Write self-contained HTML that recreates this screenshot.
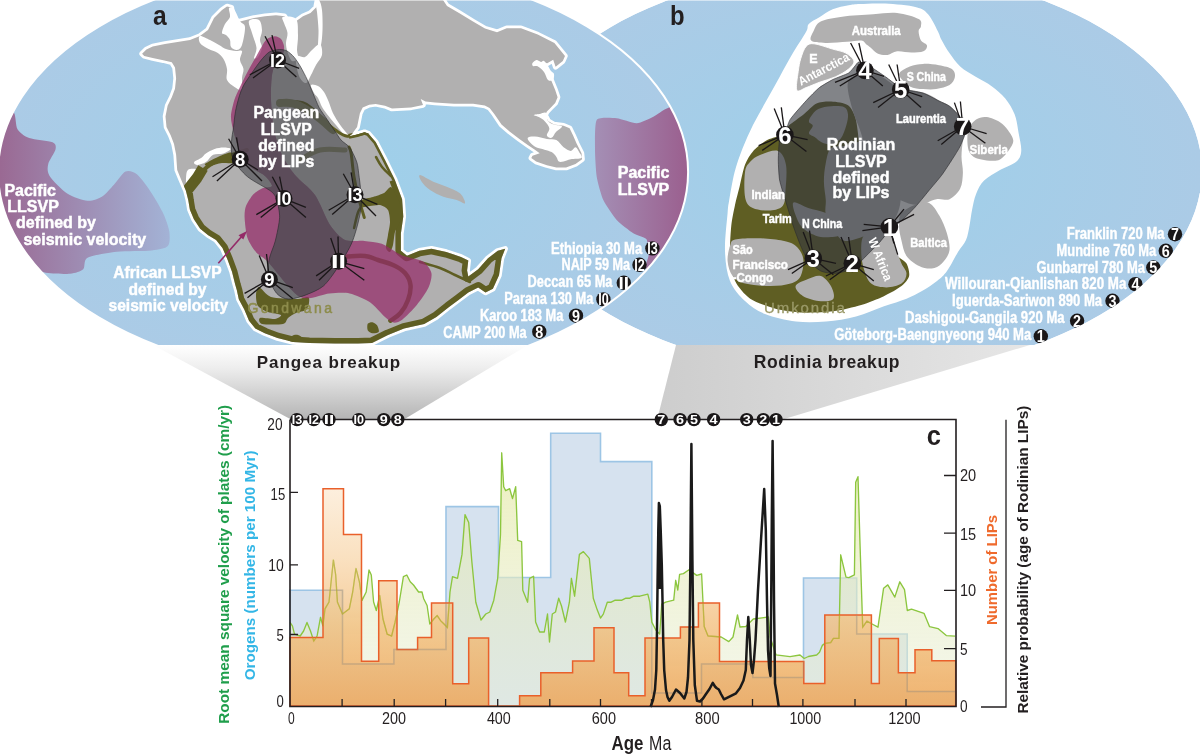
<!DOCTYPE html>
<html><head><meta charset="utf-8"><style>
html,body{margin:0;padding:0;background:#fff;width:1200px;height:754px;overflow:hidden}
svg{display:block;will-change:transform}
text{font-family:"Liberation Sans",sans-serif}
</style></head><body>
<svg width="1200" height="754" viewBox="0 0 1200 754">
<defs>
<radialGradient id="sea" cx="0.5" cy="0.5" r="0.5">
<stop offset="0" stop-color="#9ed0ea"/><stop offset="1" stop-color="#abcbe6"/>
</radialGradient>
<linearGradient id="fa" x1="0" y1="0" x2="0" y2="1">
<stop offset="0" stop-color="#ffffff"/><stop offset="0.3" stop-color="#eeeeee"/><stop offset="1" stop-color="#b3b3b3"/>
</linearGradient>
<linearGradient id="fb" x1="0" y1="0" x2="1" y2="0">
<stop offset="0" stop-color="#cdcdcd"/><stop offset="1" stop-color="#e6e6e6"/>
</linearGradient>
<linearGradient id="og" gradientUnits="userSpaceOnUse" x1="0" y1="440" x2="0" y2="706">
<stop offset="0" stop-color="#fef7ee"/><stop offset="0.45" stop-color="#f8d6aa"/><stop offset="0.7" stop-color="#f2bb76"/><stop offset="1" stop-color="#ef9c46"/>
</linearGradient>
<linearGradient id="gg" gradientUnits="userSpaceOnUse" x1="0" y1="450" x2="0" y2="706">
<stop offset="0" stop-color="#e6eaa8" stop-opacity="0.75"/><stop offset="1" stop-color="#e8eed8" stop-opacity="0.5"/>
</linearGradient>
<linearGradient id="pacA" gradientUnits="userSpaceOnUse" x1="0" y1="0" x2="170" y2="0">
<stop offset="0" stop-color="#9a6993"/><stop offset="1" stop-color="#a3b3d6"/>
</linearGradient>
<linearGradient id="pacB" gradientUnits="userSpaceOnUse" x1="595" y1="0" x2="684" y2="0">
<stop offset="0" stop-color="#a48fb5"/><stop offset="1" stop-color="#9b6190"/>
</linearGradient>
<clipPath id="clipA"><path d="M0,0 H1200 V345 H0 Z" /></clipPath>
<clipPath id="orClip"><path d="M290.0,706 L290.0,637.6 L323.0,637.6 L323.0,488.8 L343.5,488.8 L343.5,534.4 L361.5,534.4 L361.5,661.3 L378.7,661.3 L378.7,580.8 L397.0,580.8 L397.0,649.4 L417.6,649.4 L417.6,637.6 L431.5,637.6 L431.5,603.0 L452.7,603.0 L452.7,683.8 L468.7,683.8 L468.7,638.0 L488.6,638.0 L488.6,706.0 L519.6,706.0 L519.6,695.8 L540.8,695.8 L540.8,672.7 L572.6,672.7 L572.6,661.0 L594.0,661.0 L594.0,627.7 L614.0,627.7 L614.0,672.7 L628.7,672.7 L628.7,695.8 L645.0,695.8 L645.0,638.0 L680.4,638.0 L680.4,626.9 L698.4,626.9 L698.4,603.0 L719.5,603.0 L719.5,661.4 L803.8,661.4 L803.8,683.5 L824.8,683.5 L824.8,615.0 L871.4,615.0 L871.4,683.5 L879.3,683.5 L879.3,638.5 L898.4,638.5 L898.4,672.8 L915.0,672.8 L915.0,649.7 L931.8,649.7 L931.8,660.8 L955.7,660.8 L955.7,706 Z"/></clipPath>
<clipPath id="ellA"><ellipse cx="343.1" cy="172" rx="345" ry="206"/></clipPath>
<clipPath id="ellB"><ellipse cx="855.2" cy="171.1" rx="346.7" ry="203.1"/></clipPath>
<clipPath id="clipPangea"><path d="M142.1,53.8 L146.4,49.5 L152.7,46.4 L165,44 L190,40 L200,36 L208,30 L214,18 L222,10 L227,6.5 L231.4,7.6 L233,20 L239,21.7 L254,18 L265,16.3 L276,15.2 L284.5,16.3 L289,23.8 L292,26 L295.3,21.7 L303,16.3 L310.5,13 L316,7.6 L318,-3 L441,-3 L447,6 L459,13 L473,21.5 L485,28.6 L497,32.2 L506.7,28.2 L521,28.2 L537.7,34.6 L554.4,43 L565,56 L562.8,61 L555.6,66.8 L553.2,59.7 L547.2,63.3 L535.3,60.9 L534,64.5 L543.7,68 L549.6,76.4 L555.2,90 L557.6,97.2 L555.2,103.1 L550.4,107.9 L546.9,111.5 L545.1,115.1 L548.1,121 L554,124.6 L563.6,125.8 L569.6,128.2 L573.1,135.4 L576.7,143.7 L581.5,153.3 L582.1,159.3 L575.5,164 L566,167.6 L556.4,167.6 L546.9,165.2 L536.1,161.6 L531.3,158.1 L532.5,155.7 L539.7,153.3 L534.9,149.7 L527.8,144.9 L519.4,139 L509.9,131.8 L501.5,124.6 L494.3,113.9 L489.6,107.9 L484.8,105.5 L473.2,103.8 L454,103.8 L435,102.6 L425.5,101.5 L420.7,99.1 L423,105 L411,107.4 L392,108.6 L385,105.8 L375.7,103.9 L369.2,104.8 L362.7,107.6 L359.9,113.2 L357.1,127.1 L352,134 L348.8,136.4 L357.1,134.5 L364.5,132.2 L368.3,133.6 L375.7,142 L385,160 L394.7,179.6 L402.1,199.3 L403.3,216.4 L400.9,233.6 L400.9,250.8 L407,255.7 L419.3,250.8 L431.5,248.8 L446.3,252 L461,256.9 L468.3,260.6 L467.1,270.4 L468.3,276.6 L478.2,269.2 L488,258.2 L497.8,250.8 L505.2,248.8 L501.5,258.2 L499,275.3 L492.9,288.8 L485.5,292.5 L478.2,287.6 L468.3,292.5 L458.5,299.9 L448.7,307.2 L436.4,317.1 L424.2,324 L404,328.6 L388,335 L372,343 L358,343.5 L335,343.5 L309.2,343.1 L293.3,342 L277.5,338.1 L264.8,333.3 L255.3,328.6 L249,320.7 L244.3,309.6 L238.8,299.2 L236.8,290 L235.2,284.5 L232,271.8 L227.3,259.1 L222.5,247.9 L216.1,240 L208.2,235.2 L200.2,228.8 L193.9,219.3 L189.9,209.8 L188.3,200.2 L185.9,190.7 L181.1,179.5 L177.2,170 L176.1,154.6 L174,144 L170.8,135.5 L166.5,127 L165.5,116.4 L167.6,105.8 L171.8,97.3 L175,88.8 L176.1,78.2 L175,67.6 L171.8,62.3 L163.3,60.2 L152.7,58 L144.2,55.9 Z"/></clipPath>
</defs>

<!-- funnels -->
<polygon points="153,345 528,345 403,420 292,420" fill="url(#fa)"/>
<polygon points="676,345 1030,345 781,420 657,420" fill="url(#fb)"/>

<g clip-path="url(#clipA)">
<g clip-path="url(#ellB)">
<ellipse cx="855.2" cy="171.1" rx="346.7" ry="203.1" fill="url(#sea)"/>
<path d="M808.8,23.9 C811.0,21.5 815.4,19.6 819.4,17.2 C823.4,14.8 827.8,11.3 832.7,9.3 C837.6,7.3 844.1,6.2 848.6,5.3 C853.1,4.4 853.9,4.3 860.0,4.0 C866.1,3.7 875.8,3.1 885.2,3.6 C894.6,4.1 909.1,5.4 916.2,7.2 C923.4,9.0 924.5,10.3 928.1,14.3 C931.7,18.3 935.5,26.7 937.7,31.0 C940.0,35.3 939.6,36.3 941.6,40.0 C943.6,43.7 946.5,48.9 949.6,53.3 C952.7,57.7 955.8,62.5 960.2,66.5 C964.6,70.5 970.8,73.8 976.1,77.1 C981.4,80.4 987.1,82.9 992.0,86.4 C996.9,90.0 1001.5,93.8 1005.3,98.4 C1009.1,103.1 1012.4,108.5 1014.6,114.3 C1016.8,120.0 1017.5,126.7 1018.6,132.9 C1019.7,139.1 1021.7,146.6 1021.2,151.4 C1020.8,156.2 1019.4,158.9 1015.9,162.0 C1012.4,165.1 1005.3,166.9 1000.0,170.0 C994.7,173.1 988.1,176.6 984.1,180.6 C980.1,184.6 978.1,189.0 976.1,193.9 C974.1,198.8 973.2,204.5 972.1,209.8 C971.0,215.1 970.5,220.7 969.5,225.7 C968.5,230.7 967.9,235.6 966.0,240.0 C964.1,244.4 961.2,246.8 958.0,252.0 C954.8,257.2 950.5,266.2 947.0,271.0 C943.5,275.8 941.2,277.7 937.0,281.0 C932.8,284.3 927.1,288.1 922.0,291.0 C916.9,293.9 912.8,296.1 906.5,298.7 C900.2,301.2 892.4,303.4 884.0,306.3 C875.6,309.2 865.7,313.9 856.0,316.4 C846.3,318.9 836.0,320.6 826.0,321.4 C816.0,322.2 806.2,322.6 796.0,321.4 C785.8,320.2 773.5,317.4 765.0,314.0 C756.5,310.6 750.8,306.5 745.0,301.0 C739.2,295.5 733.3,289.3 730.0,281.0 C726.7,272.7 725.4,262.3 725.0,251.0 C724.6,239.7 726.9,221.5 727.6,213.0 C728.3,204.5 728.1,206.8 729.2,200.0 C730.4,193.2 732.3,181.1 734.5,172.5 C736.7,163.9 739.4,156.6 742.5,148.6 C745.6,140.6 749.1,132.7 753.1,124.7 C757.1,116.7 761.9,108.8 766.3,100.8 C770.7,92.8 775.2,84.9 779.6,76.9 C784.0,69.0 788.5,60.6 792.9,53.1 C797.3,45.6 803.5,36.7 806.1,31.8 C808.8,26.9 806.6,26.3 808.8,23.9 Z" fill="#fff"/>
<path d="M779.6,135.3 C776.6,137.3 769.8,138.5 766.3,140.6 C762.8,142.7 755.9,148.0 753.1,151.2 C750.3,154.4 746.9,159.9 745.1,164.5 C743.3,169.1 741.1,180.3 739.8,185.7 C738.5,191.1 736.1,199.7 735.0,205.0 C733.9,210.3 732.0,218.8 731.3,225.6 C730.6,232.4 729.6,248.5 730.1,255.9 C730.6,263.3 732.4,275.4 735.1,281.1 C737.8,286.8 744.8,295.0 750.2,298.7 C755.6,302.4 768.4,306.9 775.5,308.8 C782.6,310.7 795.5,312.3 803.2,312.6 C810.9,312.9 825.7,312.3 833.4,311.3 C841.1,310.3 854.5,307.0 861.2,305.0 C867.9,303.0 878.5,298.7 883.9,296.2 C889.3,293.7 898.1,288.8 901.5,286.1 C904.9,283.4 908.4,279.0 909.1,276.0 C909.8,273.0 908.2,266.1 906.5,263.4 C904.8,260.7 899.5,257.6 896.5,255.9 C893.5,254.2 887.4,253.6 883.9,250.8 C880.4,248.0 872.9,240.4 870.0,235.0 C867.1,229.6 863.3,217.3 862.0,210.0 C860.7,202.7 860.4,188.8 860.0,180.0 C859.6,171.2 859.6,152.2 859.0,144.0 C858.4,135.8 857.0,123.5 855.5,118.3 C854.0,113.1 851.2,107.5 848.0,105.3 C844.8,103.1 835.5,101.8 831.3,101.6 C827.1,101.4 820.2,101.8 816.5,103.5 C812.8,105.2 807.2,111.6 803.5,114.6 C799.8,117.6 791.8,123.0 788.6,125.8 C785.4,128.6 782.6,133.3 779.6,135.3 Z" fill="#5f5e23"/>
<path d="M820.7,21.5 C825.5,19.1 833.5,17.9 842.2,16.7 C851.0,15.5 864.1,14.9 873.2,14.3 C882.4,13.7 889.5,12.3 897.1,13.1 C904.7,13.9 914.6,16.9 918.6,19.1 C922.6,21.3 921.0,24.3 921.0,26.3 C921.0,28.3 918.6,28.6 918.6,31.0 C918.6,33.4 919.6,38.2 921.0,40.6 C922.4,43.0 926.6,43.6 927.0,45.4 C927.4,47.2 926.0,50.1 923.4,51.3 C920.8,52.5 915.8,52.5 911.4,52.5 C907.0,52.5 901.1,50.9 897.1,51.3 C893.1,51.7 890.8,54.5 887.6,54.9 C884.4,55.3 880.8,54.9 878.0,53.7 C875.2,52.5 872.8,49.3 870.8,47.7 C868.8,46.1 867.7,45.4 866.1,44.2 C864.5,43.0 864.5,41.0 861.3,40.6 C858.1,40.2 853.0,41.4 847.0,41.8 C841.0,42.2 831.5,43.2 825.5,43.0 C819.5,42.8 813.2,42.6 811.2,40.6 C809.2,38.6 812.0,34.2 813.6,31.0 C815.2,27.8 815.9,23.9 820.7,21.5 Z" fill="#b1b0b0"/>
<path d="M796.8,90.2 C795.5,87.5 797.5,76.9 798.2,71.6 C798.9,66.3 799.5,62.6 800.8,58.4 C802.1,54.2 803.9,48.8 806.1,46.4 C808.3,44.0 809.7,43.3 814.1,43.8 C818.5,44.2 827.4,47.5 832.7,49.1 C838.0,50.7 842.4,51.1 845.9,53.1 C849.4,55.1 853.4,58.4 853.9,61.0 C854.4,63.6 851.7,66.3 848.6,69.0 C845.5,71.7 840.2,74.7 835.3,76.9 C830.4,79.1 824.3,80.5 819.4,82.3 C814.5,84.1 809.9,86.3 806.1,87.6 C802.3,88.9 798.1,92.9 796.8,90.2 Z" fill="#b1b0b0"/>
<path d="M899.2,74.5 C899.2,71.2 905.8,68.3 909.8,66.5 C913.8,64.7 918.2,64.1 923.1,63.9 C928.0,63.7 934.1,64.3 939.0,65.2 C943.9,66.1 949.6,67.2 952.2,69.2 C954.9,71.2 955.3,74.4 954.9,77.1 C954.5,79.8 952.7,83.1 949.6,85.1 C946.5,87.1 940.7,88.4 936.3,89.1 C931.9,89.8 927.5,89.5 923.1,89.1 C918.7,88.6 913.8,88.8 909.8,86.4 C905.8,84.0 899.2,77.8 899.2,74.5 Z" fill="#b1b0b0"/>
<path d="M968.2,130.2 C969.5,125.3 973.0,121.8 976.1,119.6 C979.2,117.4 982.7,116.6 986.7,117.0 C990.7,117.4 996.5,120.0 1000.0,122.2 C1003.5,124.4 1005.8,127.1 1008.0,130.2 C1010.2,133.3 1013.3,137.3 1013.3,140.8 C1013.3,144.3 1010.2,148.3 1008.0,151.4 C1005.8,154.5 1002.7,157.9 1000.0,159.4 C997.3,160.9 995.1,160.7 992.0,160.7 C988.9,160.7 984.5,160.1 981.4,159.4 C978.3,158.7 975.7,158.5 973.5,156.7 C971.3,154.9 969.1,153.2 968.2,148.8 C967.3,144.4 966.9,135.1 968.2,130.2 Z" fill="#b1b0b0"/>
<path d="M848,82 C849.7,76.3 856.7,75.0 862.0,74.0 C867.3,73.0 874.0,73.8 880.0,76.0 C886.0,78.2 890.5,84.2 898.0,87.0 C905.5,89.8 918.0,90.7 925.0,93.0 C932.0,95.3 935.8,98.8 940.0,101.0 C944.2,103.2 946.7,103.3 950.0,106.0 C953.3,108.7 957.5,112.8 960.0,117.0 C962.5,121.2 964.5,127.0 965.0,131.0 C965.5,135.0 963.5,136.5 962.9,140.8 C962.3,145.1 961.5,151.4 961.5,156.7 C961.5,162.0 963.1,167.3 962.9,172.6 C962.7,177.9 962.4,184.2 960.2,188.6 C958.0,193.0 953.6,197.4 949.6,199.2 C945.6,201.0 941.6,198.2 936.3,199.2 C931.0,200.2 923.8,204.9 917.8,205.0 C911.8,205.1 905.5,202.5 900.0,200.0 C894.5,197.5 889.7,194.2 885.0,190.0 C880.3,185.8 875.2,181.7 872.0,175.0 C868.8,168.3 868.0,157.5 866.0,150.0 C864.0,142.5 862.3,137.0 860.0,130.0 C857.7,123.0 854.0,116.0 852.0,108.0 C850.0,100.0 846.3,87.7 848.0,82.0 Z" fill="#b1b0b0"/>
<path d="M831,148 C834.2,145.2 840.2,147.0 845.0,146.0 C849.8,145.0 854.2,141.3 860.0,142.0 C865.8,142.7 873.7,144.5 880.0,150.0 C886.3,155.5 894.7,165.8 898.0,175.0 C901.3,184.2 901.7,196.2 900.0,205.0 C898.3,213.8 893.8,222.8 888.0,228.0 C882.2,233.2 872.2,233.8 865.0,236.0 C857.8,238.2 850.0,241.7 845.0,241.0 C840.0,240.3 838.2,236.3 835.0,232.0 C831.8,227.7 827.5,220.3 826.0,215.0 C824.5,209.7 826.1,205.6 825.8,200.0 C825.4,194.4 823.9,187.7 823.9,181.5 C823.9,175.3 824.6,168.6 825.8,163.0 C827.0,157.4 827.8,150.8 831.0,148.0 Z" fill="#b1b0b0"/>
<path d="M745,172 C745.8,166.0 747.5,164.8 750.0,162.0 C752.5,159.2 755.3,156.8 760.0,155.0 C764.7,153.2 773.7,149.3 778.0,151.0 C782.3,152.7 784.8,158.4 786.0,165.0 C787.2,171.6 786.0,183.6 785.5,190.3 C785.0,197.1 785.5,202.1 783.0,205.5 C780.5,208.9 775.4,210.1 770.4,210.5 C765.4,210.9 757.0,210.1 752.8,208.0 C748.6,205.9 746.5,203.9 745.2,197.9 C743.9,191.9 744.2,178.0 745.0,172.0 Z" fill="#b1b0b0"/>
<path d="M730.1,245.8 C731.4,242.2 730.5,240.8 735.1,239.5 C739.7,238.2 749.8,238.0 757.8,238.2 C765.8,238.4 776.7,239.5 783.0,240.8 C789.3,242.1 792.2,242.9 795.6,245.8 C799.0,248.7 802.4,253.4 803.2,258.4 C804.1,263.4 802.8,271.8 800.7,276.0 C798.6,280.2 795.7,281.9 790.6,283.6 C785.5,285.3 778.0,286.1 770.4,286.1 C762.8,286.1 751.5,285.3 745.2,283.6 C738.9,281.9 735.5,279.8 732.6,276.0 C729.7,272.2 728.0,265.9 727.6,260.9 C727.2,255.9 728.9,249.4 730.1,245.8 Z" fill="#b1b0b0"/>
<path d="M795.6,286.1 C796.4,283.2 803.8,280.7 808.0,279.0 C812.2,277.3 817.0,274.8 820.8,276.0 C824.6,277.2 828.8,282.3 830.9,286.1 C833.0,289.9 835.1,296.2 833.4,298.7 C831.7,301.2 825.8,301.6 820.8,301.2 C815.8,300.8 807.4,298.7 803.2,296.2 C799.0,293.7 794.8,289.0 795.6,286.1 Z" fill="#b1b0b0"/>
<path d="M863.7,235.7 C866.2,232.3 871.7,230.7 876.3,230.7 C880.9,230.7 888.0,232.3 891.4,235.7 C894.8,239.0 894.8,246.2 896.5,250.8 C898.2,255.4 899.8,259.6 901.5,263.4 C903.2,267.2 906.5,270.1 906.5,273.5 C906.5,276.9 904.9,281.3 901.5,283.6 C898.1,285.9 891.4,287.4 886.4,287.4 C881.4,287.4 875.0,286.8 871.2,283.6 C867.4,280.5 865.4,274.0 863.7,268.5 C862.0,263.0 861.2,256.3 861.2,250.8 C861.2,245.3 861.2,239.0 863.7,235.7 Z" fill="#b1b0b0"/>
<path d="M901.5,213 C904.4,209.4 912.0,205.9 916.6,204.2 C921.2,202.5 925.4,201.0 929.2,202.9 C933.0,204.8 936.3,210.4 939.3,215.5 C942.2,220.6 945.2,227.3 946.9,233.2 C948.6,239.1 950.2,245.8 949.4,250.8 C948.5,255.8 944.8,260.4 941.8,263.4 C938.8,266.3 935.5,268.1 931.7,268.5 C927.9,268.9 923.3,268.1 919.1,266.0 C914.9,263.9 909.4,260.1 906.5,255.9 C903.6,251.7 902.8,245.9 901.5,240.8 C900.2,235.8 899.0,230.2 899.0,225.6 C899.0,221.0 898.6,216.6 901.5,213.0 Z" fill="#b1b0b0"/>
<path d="M793,203 C794.2,200.1 802.7,206.3 808.2,208.0 C813.7,209.7 820.4,210.9 825.9,213.0 C831.4,215.1 838.1,217.2 841.0,220.6 C843.9,224.0 845.2,230.5 843.5,233.2 C841.8,235.9 835.6,236.6 831.0,237.0 C826.4,237.4 820.8,237.6 815.8,235.7 C810.8,233.8 804.5,231.0 800.7,225.6 C796.9,220.2 791.8,205.9 793.0,203.0 Z" fill="#b1b0b0"/>
<path d="M810.9,116.5 C812.4,114.3 814.9,110.7 818.3,109.0 C821.7,107.3 827.0,106.5 831.3,106.2 C835.6,105.9 841.5,105.8 844.3,107.2 C847.1,108.6 847.7,111.5 848.0,114.6 C848.3,117.7 847.4,121.8 846.2,125.8 C845.0,129.8 843.1,135.7 840.6,138.8 C838.1,141.9 834.4,143.7 831.3,144.3 C828.2,144.9 824.8,143.7 822.0,142.5 C819.2,141.3 816.8,138.6 814.6,137.0 C812.4,135.4 809.3,135.1 809.0,133.2 C808.7,131.3 812.8,127.7 812.8,125.8 C812.8,123.9 809.3,123.5 809.0,122.0 C808.7,120.5 809.4,118.7 810.9,116.5 Z" fill="#b1b0b0"/>
<path d="M796.8,90.2 C795.5,87.5 797.5,76.9 798.2,71.6 C798.9,66.3 799.5,62.6 800.8,58.4 C802.1,54.2 803.9,48.8 806.1,46.4 C808.3,44.0 809.7,43.3 814.1,43.8 C818.5,44.2 827.4,47.5 832.7,49.1 C838.0,50.7 842.4,51.1 845.9,53.1 C849.4,55.1 853.4,58.4 853.9,61.0 C854.4,63.6 851.7,66.3 848.6,69.0 C845.5,71.7 840.2,74.7 835.3,76.9 C830.4,79.1 824.3,80.5 819.4,82.3 C814.5,84.1 809.9,86.3 806.1,87.6 C802.3,88.9 798.1,92.9 796.8,90.2 Z" fill="none" stroke="#fff" stroke-width="0.9"/>
<path d="M859,62 C860.5,62.0 867.3,65.0 870.0,66.5 C872.7,68.0 883.2,75.2 885.9,77.1 C888.5,79.0 894.9,83.9 896.5,85.1 C898.1,86.3 899.1,88.3 901.8,89.1 C904.5,89.9 919.4,91.9 923.1,93.1 C926.8,94.3 936.4,99.7 939.0,101.0 C941.6,102.3 947.5,104.7 949.6,106.3 C951.7,107.9 958.6,114.5 960.2,117.0 C961.8,119.5 965.5,128.6 965.5,131.5 C965.5,134.4 961.5,143.3 960.2,146.1 C958.9,148.9 954.1,156.5 952.2,159.4 C950.3,162.3 944.0,172.1 941.6,175.3 C939.2,178.5 931.0,188.0 928.4,191.2 C925.8,194.4 917.8,204.3 915.1,207.2 C912.4,210.1 904.2,218.3 901.8,220.4 C899.4,222.5 892.5,227.4 891.2,228.4 C889.9,229.4 890.1,229.2 888.9,230.7 C887.7,232.2 881.1,240.8 878.8,243.3 C876.5,245.8 868.5,253.6 866.2,255.9 C863.9,258.2 858.1,264.5 856.1,266.0 C854.1,267.5 848.3,270.2 846.0,271.0 C843.7,271.8 835.9,273.5 833.4,273.5 C830.9,273.5 823.3,272.3 820.8,271.0 C818.3,269.7 810.2,263.4 808.2,260.9 C806.2,258.4 802.2,249.3 800.7,245.8 C799.2,242.3 794.6,230.1 793.1,225.6 C791.6,221.1 786.9,205.0 785.5,200.4 C784.1,195.8 780.3,184.0 779.6,180.0 C778.9,176.0 778.3,164.0 778.3,160.0 C778.3,156.0 778.9,142.6 779.6,140.0 C780.3,137.4 783.8,136.1 784.9,134.0 C786.0,131.9 788.1,122.7 790.2,119.4 C792.3,116.1 803.2,104.0 806.1,100.8 C809.0,97.6 816.7,89.7 819.4,87.6 C822.1,85.5 829.8,81.1 832.7,79.6 C835.6,78.1 846.4,74.4 848.6,73.0 C850.8,71.6 854.0,67.1 855.0,66.0 C856.0,64.9 857.5,62.0 859.0,62.0 Z" fill="#35383f" fill-opacity="0.62" stroke="#2a2a2e" stroke-width="0.6"/>
<g stroke="#1a1718" stroke-width="1.3"><line x1="889.4" y1="226.9" x2="904" y2="209.2"/><line x1="889.4" y1="226.9" x2="914.1" y2="214.3"/><line x1="889.4" y1="226.9" x2="863.7" y2="224.4"/><line x1="889.4" y1="226.9" x2="862.4" y2="230.7"/><line x1="889.4" y1="226.9" x2="893.9" y2="243.3"/><line x1="889.4" y1="226.9" x2="897.7" y2="254.6"/></g><circle cx="889.4" cy="226.9" r="8.8" fill="#1a1718"/><text x="889.4" y="235.54" text-anchor="middle" font-size="24" font-weight="bold" fill="#fff">1</text>
<g stroke="#1a1718" stroke-width="1.3"><line x1="852.3" y1="263.4" x2="841" y2="237"/><line x1="852.3" y1="263.4" x2="848.6" y2="237"/><line x1="852.3" y1="263.4" x2="825.9" y2="276"/><line x1="852.3" y1="263.4" x2="829.7" y2="279.8"/><line x1="852.3" y1="263.4" x2="873.8" y2="269.7"/><line x1="852.3" y1="263.4" x2="873.8" y2="281.1"/></g><circle cx="852.3" cy="263.4" r="8.8" fill="#1a1718"/><text x="852.3" y="272.04" text-anchor="middle" font-size="24" font-weight="bold" fill="#fff">2</text>
<g stroke="#1a1718" stroke-width="1.3"><line x1="813.3" y1="258.4" x2="803.2" y2="231.9"/><line x1="813.3" y1="258.4" x2="809.5" y2="230.7"/><line x1="813.3" y1="258.4" x2="788" y2="269.7"/><line x1="813.3" y1="258.4" x2="791.8" y2="273.5"/><line x1="813.3" y1="258.4" x2="836" y2="263.4"/><line x1="813.3" y1="258.4" x2="833.4" y2="274.8"/></g><circle cx="813.3" cy="258.4" r="8.8" fill="#1a1718"/><text x="813.3" y="267.04" text-anchor="middle" font-size="24" font-weight="bold" fill="#fff">3</text>
<g stroke="#1a1718" stroke-width="1.3"><line x1="864.9" y1="70.4" x2="850.6" y2="43"/><line x1="864.9" y1="70.4" x2="858.9" y2="43"/><line x1="864.9" y1="70.4" x2="835" y2="82.4"/><line x1="864.9" y1="70.4" x2="839.8" y2="86"/><line x1="864.9" y1="70.4" x2="884" y2="76.4"/><line x1="864.9" y1="70.4" x2="882.8" y2="86"/></g><circle cx="864.9" cy="70.4" r="8.8" fill="#1a1718"/><text x="864.9" y="79.04" text-anchor="middle" font-size="24" font-weight="bold" fill="#fff">4</text>
<g stroke="#1a1718" stroke-width="1.3"><line x1="900.7" y1="89.5" x2="888.7" y2="64.5"/><line x1="900.7" y1="89.5" x2="897.1" y2="64.5"/><line x1="900.7" y1="89.5" x2="873.2" y2="102.6"/><line x1="900.7" y1="89.5" x2="878" y2="107.4"/><line x1="900.7" y1="89.5" x2="922.2" y2="96.7"/><line x1="900.7" y1="89.5" x2="921" y2="107.4"/></g><circle cx="900.7" cy="89.5" r="8.8" fill="#1a1718"/><text x="900.7" y="98.14" text-anchor="middle" font-size="24" font-weight="bold" fill="#fff">5</text>
<g stroke="#1a1718" stroke-width="1.3"><line x1="784.9" y1="134.9" x2="774.2" y2="108.6"/><line x1="784.9" y1="134.9" x2="781.3" y2="107.4"/><line x1="784.9" y1="134.9" x2="758.6" y2="145.6"/><line x1="784.9" y1="134.9" x2="762.2" y2="150.4"/><line x1="784.9" y1="134.9" x2="807.6" y2="139.7"/><line x1="784.9" y1="134.9" x2="806.4" y2="151.6"/></g><circle cx="784.9" cy="134.9" r="8.8" fill="#1a1718"/><text x="784.9" y="143.54" text-anchor="middle" font-size="24" font-weight="bold" fill="#fff">6</text>
<g stroke="#1a1718" stroke-width="1.3"><line x1="962.7" y1="126.5" x2="954.4" y2="102.6"/><line x1="962.7" y1="126.5" x2="960.4" y2="101.5"/><line x1="962.7" y1="126.5" x2="937.7" y2="140.8"/><line x1="962.7" y1="126.5" x2="941.3" y2="144.4"/><line x1="962.7" y1="126.5" x2="986.6" y2="133.7"/><line x1="962.7" y1="126.5" x2="985.4" y2="143.2"/></g><circle cx="962.7" cy="126.5" r="8.8" fill="#1a1718"/><text x="962.7" y="135.14" text-anchor="middle" font-size="24" font-weight="bold" fill="#fff">7</text>
<text x="861" y="150" text-anchor="middle" font-size="16" font-weight="bold" fill="#fff" stroke="#fff" stroke-width="0.45">Rodinian</text>
<text x="861" y="166.5" text-anchor="middle" font-size="16" font-weight="bold" fill="#fff" stroke="#fff" stroke-width="0.45">LLSVP</text>
<text x="861" y="183" text-anchor="middle" font-size="16" font-weight="bold" fill="#fff" stroke="#fff" stroke-width="0.45">defined</text>
<text x="861" y="197.5" text-anchor="middle" font-size="16" font-weight="bold" fill="#fff" stroke="#fff" stroke-width="0.45">by LIPs</text>
<text x="876.2" y="34.6" text-anchor="middle" font-size="12.5" font-weight="bold" fill="#fff" textLength="49" lengthAdjust="spacingAndGlyphs" stroke="#fff" stroke-width="0.45">Australia</text>
<text x="813.5" y="63.3" text-anchor="middle" font-size="12.5" font-weight="bold" fill="#fff" stroke="#fff" stroke-width="0.45">E</text>
<text transform="translate(801,86) rotate(-28)" font-size="12.5" font-weight="bold" fill="#fff" textLength="56" lengthAdjust="spacingAndGlyphs">Antarctica</text>
<text x="926.3" y="81.2" text-anchor="middle" font-size="12.5" font-weight="bold" fill="#fff" textLength="39.3" lengthAdjust="spacingAndGlyphs" stroke="#fff" stroke-width="0.45">S China</text>
<text x="921" y="123" text-anchor="middle" font-size="12.5" font-weight="bold" fill="#fff" textLength="50" lengthAdjust="spacingAndGlyphs" stroke="#fff" stroke-width="0.45">Laurentia</text>
<text x="988.7" y="154" text-anchor="middle" font-size="12.5" font-weight="bold" fill="#fff" textLength="38.5" lengthAdjust="spacingAndGlyphs" stroke="#fff" stroke-width="0.45">Siberia</text>
<text x="768.2" y="199.2" text-anchor="middle" font-size="12.5" font-weight="bold" fill="#fff" textLength="33.5" lengthAdjust="spacingAndGlyphs" stroke="#fff" stroke-width="0.45">Indian</text>
<text x="777.3" y="223.1" text-anchor="middle" font-size="12.5" font-weight="bold" fill="#fff" textLength="29" lengthAdjust="spacingAndGlyphs" stroke="#fff" stroke-width="0.45">Tarim</text>
<text x="822.1" y="228.1" text-anchor="middle" font-size="12.5" font-weight="bold" fill="#fff" textLength="40.3" lengthAdjust="spacingAndGlyphs" stroke="#fff" stroke-width="0.45">N China</text>
<text x="928.6" y="247.1" text-anchor="middle" font-size="12.5" font-weight="bold" fill="#fff" textLength="36.6" lengthAdjust="spacingAndGlyphs" stroke="#fff" stroke-width="0.45">Baltica</text>
<text x="732.6" y="253.9" text-anchor="start" font-size="12.5" font-weight="bold" fill="#fff" textLength="20.2" lengthAdjust="spacingAndGlyphs" stroke="#fff" stroke-width="0.45">São</text>
<text x="732.6" y="268.5" text-anchor="start" font-size="12.5" font-weight="bold" fill="#fff" textLength="55.4" lengthAdjust="spacingAndGlyphs" stroke="#fff" stroke-width="0.45">Francisco</text>
<text x="732.6" y="282.3" text-anchor="start" font-size="12.5" font-weight="bold" fill="#fff" textLength="40.4" lengthAdjust="spacingAndGlyphs" stroke="#fff" stroke-width="0.45">-Congo</text>
<text transform="translate(868,240) rotate(68)" font-size="12.5" font-weight="bold" fill="#fff" textLength="45" lengthAdjust="spacingAndGlyphs">W Africa</text>
<text x="764" y="312.6" font-size="15" fill="#9a9968" stroke="#9a9968" stroke-width="0.3" textLength="80.8" lengthAdjust="spacing">Umkondia</text>
<text x="1066.7" y="239.2" text-anchor="start" font-size="16" font-weight="bold" fill="#fff" textLength="97.8" lengthAdjust="spacingAndGlyphs" stroke="#fff" stroke-width="0.4">Franklin 720 Ma</text>
<circle cx="1175" cy="234.2" r="7.2" fill="#1a1718"/><text x="1175" y="240.14" text-anchor="middle" font-size="16.5" font-weight="bold" fill="#fff" textLength="8" lengthAdjust="spacingAndGlyphs">7</text>
<text x="1056.5" y="255.9" text-anchor="start" font-size="16" font-weight="bold" fill="#fff" textLength="99.7" lengthAdjust="spacingAndGlyphs" stroke="#fff" stroke-width="0.4">Mundine 760 Ma</text>
<circle cx="1165.8" cy="250.8" r="7.2" fill="#1a1718"/><text x="1165.8" y="256.74" text-anchor="middle" font-size="16.5" font-weight="bold" fill="#fff" textLength="8" lengthAdjust="spacingAndGlyphs">6</text>
<text x="1036.5" y="272.6" text-anchor="start" font-size="16" font-weight="bold" fill="#fff" textLength="108.5" lengthAdjust="spacingAndGlyphs" stroke="#fff" stroke-width="0.4">Gunbarrel 780 Ma</text>
<circle cx="1153.3" cy="267.5" r="7.2" fill="#1a1718"/><text x="1153.3" y="273.44" text-anchor="middle" font-size="16.5" font-weight="bold" fill="#fff" textLength="8" lengthAdjust="spacingAndGlyphs">5</text>
<text x="945" y="289.3" text-anchor="start" font-size="16" font-weight="bold" fill="#fff" textLength="181.3" lengthAdjust="spacingAndGlyphs" stroke="#fff" stroke-width="0.4">Willouran-Qianlishan 820 Ma</text>
<circle cx="1135.4" cy="284.2" r="7.2" fill="#1a1718"/><text x="1135.4" y="290.14" text-anchor="middle" font-size="16.5" font-weight="bold" fill="#fff" textLength="8" lengthAdjust="spacingAndGlyphs">4</text>
<text x="952.1" y="306" text-anchor="start" font-size="16" font-weight="bold" fill="#fff" textLength="150" lengthAdjust="spacingAndGlyphs" stroke="#fff" stroke-width="0.4">Iguerda-Sariwon 890 Ma</text>
<circle cx="1112.5" cy="300.8" r="7.2" fill="#1a1718"/><text x="1112.5" y="306.74" text-anchor="middle" font-size="16.5" font-weight="bold" fill="#fff" textLength="8" lengthAdjust="spacingAndGlyphs">3</text>
<text x="905" y="322.7" text-anchor="start" font-size="16" font-weight="bold" fill="#fff" textLength="159.6" lengthAdjust="spacingAndGlyphs" stroke="#fff" stroke-width="0.4">Dashigou-Gangila 920 Ma</text>
<circle cx="1077.1" cy="320.8" r="7.2" fill="#1a1718"/><text x="1077.1" y="326.74" text-anchor="middle" font-size="16.5" font-weight="bold" fill="#fff" textLength="8" lengthAdjust="spacingAndGlyphs">2</text>
<text x="834.2" y="339.6" text-anchor="start" font-size="16" font-weight="bold" fill="#fff" textLength="197.1" lengthAdjust="spacingAndGlyphs" stroke="#fff" stroke-width="0.4">Göteborg-Baengnyeong 940 Ma</text>
<circle cx="1040.8" cy="336.3" r="7.2" fill="#1a1718"/><text x="1040.8" y="342.24" text-anchor="middle" font-size="16.5" font-weight="bold" fill="#fff" textLength="8" lengthAdjust="spacingAndGlyphs">1</text>
<text x="670" y="24.6" font-size="28.4" font-weight="bold" fill="#231f20" textLength="14.6" lengthAdjust="spacingAndGlyphs">b</text>
</g>
<g clip-path="url(#ellA)">
<ellipse cx="343.1" cy="172" rx="345" ry="206" fill="url(#sea)"/>
<path d="M13.1,111.7 C16.1,112.9 15.4,125.7 17.5,129.2 C19.6,132.7 24.5,136.3 29.2,138.0 C33.9,139.7 49.1,140.8 52.6,142.3 C56.1,143.8 56.1,146.7 55.5,149.6 C54.9,152.5 49.0,160.7 48.2,164.2 C47.4,167.7 47.1,172.0 49.6,175.9 C52.1,179.8 62.1,190.1 67.2,193.4 C72.3,196.7 82.9,200.3 87.6,200.7 C92.3,201.1 98.7,198.5 102.2,196.4 C105.7,194.3 110.8,188.0 113.9,184.7 C117.0,181.4 122.4,172.9 125.5,171.5 C128.6,170.1 133.7,171.6 137.2,174.5 C140.7,177.4 148.3,188.1 151.8,193.4 C155.3,198.7 161.2,208.8 163.5,213.9 C165.8,219.0 168.7,227.1 169.3,231.4 C169.9,235.7 170.2,243.5 167.9,246.0 C165.6,248.5 158.6,249.6 151.8,250.4 C145.0,251.2 125.4,250.8 116.8,251.8 C108.2,252.8 92.1,255.4 87.6,257.7 C83.1,260.0 85.5,267.2 83.2,269.3 C80.9,271.4 75.3,273.3 70.0,273.7 C64.7,274.1 50.5,273.9 43.8,272.3 C37.1,270.7 26.5,267.6 20.0,262.0 C13.5,256.4 -1.7,248.9 -5.0,230.0 C-8.3,211.1 -7.4,135.8 -5.0,120.0 C-2.6,104.2 10.1,110.5 13.1,111.7 Z" fill="url(#pacA)"/>
<path d="M596.7,120 C598.9,116.8 612.7,118.0 616.7,118.3 C620.7,118.6 633.0,123.5 636.7,123.3 C640.4,123.1 650.2,118.2 653.3,116.7 C656.4,115.2 663.3,109.7 668.0,108.0 C672.7,106.3 696.8,82.8 700.0,100.0 C703.2,117.2 705.2,263.0 700.0,280.0 C694.8,297.0 653.1,272.5 648.0,270.0 C642.9,267.5 648.8,258.1 648.6,255.0 C648.5,251.9 648.0,241.5 646.5,239.3 C645.0,237.1 636.3,235.2 633.3,233.3 C630.3,231.4 619.7,223.3 616.7,220.0 C613.7,216.7 605.3,204.3 603.3,200.0 C601.3,195.7 597.5,181.7 596.7,176.7 C595.9,171.7 595.0,155.7 595.0,150.0 C595.0,144.3 594.5,123.2 596.7,120.0 Z" fill="url(#pacB)"/>
<path d="M142.1,53.8 L146.4,49.5 L152.7,46.4 L165,44 L190,40 L200,36 L208,30 L214,18 L222,10 L227,6.5 L231.4,7.6 L233,20 L239,21.7 L254,18 L265,16.3 L276,15.2 L284.5,16.3 L289,23.8 L292,26 L295.3,21.7 L303,16.3 L310.5,13 L316,7.6 L318,-3 L441,-3 L447,6 L459,13 L473,21.5 L485,28.6 L497,32.2 L506.7,28.2 L521,28.2 L537.7,34.6 L554.4,43 L565,56 L562.8,61 L555.6,66.8 L553.2,59.7 L547.2,63.3 L535.3,60.9 L534,64.5 L543.7,68 L549.6,76.4 L555.2,90 L557.6,97.2 L555.2,103.1 L550.4,107.9 L546.9,111.5 L545.1,115.1 L548.1,121 L554,124.6 L563.6,125.8 L569.6,128.2 L573.1,135.4 L576.7,143.7 L581.5,153.3 L582.1,159.3 L575.5,164 L566,167.6 L556.4,167.6 L546.9,165.2 L536.1,161.6 L531.3,158.1 L532.5,155.7 L539.7,153.3 L534.9,149.7 L527.8,144.9 L519.4,139 L509.9,131.8 L501.5,124.6 L494.3,113.9 L489.6,107.9 L484.8,105.5 L473.2,103.8 L454,103.8 L435,102.6 L425.5,101.5 L420.7,99.1 L423,105 L411,107.4 L392,108.6 L385,105.8 L375.7,103.9 L369.2,104.8 L362.7,107.6 L359.9,113.2 L357.1,127.1 L352,134 L348.8,136.4 L357.1,134.5 L364.5,132.2 L368.3,133.6 L375.7,142 L385,160 L394.7,179.6 L402.1,199.3 L403.3,216.4 L400.9,233.6 L400.9,250.8 L407,255.7 L419.3,250.8 L431.5,248.8 L446.3,252 L461,256.9 L468.3,260.6 L467.1,270.4 L468.3,276.6 L478.2,269.2 L488,258.2 L497.8,250.8 L505.2,248.8 L501.5,258.2 L499,275.3 L492.9,288.8 L485.5,292.5 L478.2,287.6 L468.3,292.5 L458.5,299.9 L448.7,307.2 L436.4,317.1 L424.2,324 L404,328.6 L388,335 L372,343 L358,343.5 L335,343.5 L309.2,343.1 L293.3,342 L277.5,338.1 L264.8,333.3 L255.3,328.6 L249,320.7 L244.3,309.6 L238.8,299.2 L236.8,290 L235.2,284.5 L232,271.8 L227.3,259.1 L222.5,247.9 L216.1,240 L208.2,235.2 L200.2,228.8 L193.9,219.3 L189.9,209.8 L188.3,200.2 L185.9,190.7 L181.1,179.5 L177.2,170 L176.1,154.6 L174,144 L170.8,135.5 L166.5,127 L165.5,116.4 L167.6,105.8 L171.8,97.3 L175,88.8 L176.1,78.2 L175,67.6 L171.8,62.3 L163.3,60.2 L152.7,58 L144.2,55.9 Z" fill="#b1b0b0" stroke="#fff" stroke-width="5.5" paint-order="stroke" stroke-linejoin="round"/>
<path d="M420,175 C421.9,175.0 428.9,179.8 433.3,181.7 C437.8,183.6 442.2,184.8 446.7,186.7 C451.1,188.6 456.9,190.5 460.0,193.3 C463.1,196.1 465.6,202.2 465.0,203.3 C464.4,204.4 460.3,201.1 456.7,200.0 C453.1,198.9 447.8,198.4 443.3,196.7 C438.9,195.0 433.6,192.5 430.0,190.0 C426.4,187.5 423.4,184.2 421.7,181.7 C420.0,179.2 418.1,175.0 420.0,175.0 Z" fill="#b1b0b0"/>
<path d="M532.5,63 C533.1,62.0 535.1,60.2 536.5,60.0 C537.9,59.8 539.8,61.8 541.0,62.0 C542.2,62.2 542.8,60.3 544.0,61.0 C545.2,61.7 546.8,64.3 548.0,66.0 C549.2,67.7 550.0,69.7 551.0,71.0 C552.0,72.3 553.7,72.5 554.0,74.0 C554.3,75.5 554.0,79.0 553.0,80.0 C552.0,81.0 549.5,81.3 548.0,80.0 C546.5,78.7 545.7,74.2 544.0,72.0 C542.3,69.8 539.8,67.5 538.0,66.5 C536.2,65.5 533.9,66.6 533.0,66.0 C532.1,65.4 531.9,64.0 532.5,63.0 Z" fill="#fff"/>
<path d="M188,170 C190.0,168.3 196.5,168.7 198.0,170.0 C199.5,171.3 198.0,175.0 197.0,178.0 C196.0,181.0 193.7,186.2 192.0,188.0 C190.3,189.8 188.0,190.3 187.0,189.0 C186.0,187.7 185.8,183.2 186.0,180.0 C186.2,176.8 186.0,171.7 188.0,170.0 Z" fill="#fff"/>
<path d="M533.7,115.1 C533.8,114.5 538.0,114.3 540.0,114.0 C542.0,113.7 544.6,111.8 546.0,113.0 C547.4,114.2 546.8,119.1 548.1,121.0 C549.4,122.9 551.7,123.7 554.0,124.6 C556.3,125.5 561.7,125.3 562.0,126.5 C562.3,127.7 557.7,130.1 556.0,132.0 C554.3,133.9 553.1,137.2 551.6,137.8 C550.1,138.4 547.3,137.0 546.9,135.4 C546.5,133.8 549.7,130.6 549.3,128.2 C548.9,125.8 546.1,122.8 544.5,121.0 C542.9,119.2 541.5,118.5 539.7,117.5 C537.9,116.5 533.7,115.7 533.7,115.1 Z" fill="#fff"/>
<path d="M527.8,137.8 C528.6,136.8 531.7,136.4 534.9,136.6 C538.1,136.8 543.3,138.4 546.9,139.0 C550.5,139.6 553.6,138.7 556.4,140.1 C559.2,141.5 561.2,145.5 563.6,147.3 C566.0,149.1 568.7,150.9 570.7,150.9 C572.7,150.9 574.1,147.1 575.5,147.3 C576.9,147.5 578.1,150.3 579.1,152.1 C580.1,153.9 582.9,156.9 581.5,158.1 C580.1,159.3 573.7,158.7 570.7,159.3 C567.7,159.9 565.6,161.2 563.6,161.6 C561.6,162.0 560.0,162.4 558.8,161.6 C557.6,160.8 557.6,158.5 556.4,156.9 C555.2,155.3 553.6,153.3 551.6,152.1 C549.6,150.9 547.1,150.5 544.5,149.7 C541.9,148.9 538.5,148.5 536.1,147.3 C533.7,146.1 531.5,144.1 530.1,142.5 C528.7,140.9 527.0,138.8 527.8,137.8 Z" fill="#fff"/>
<path d="M200,36 C201.7,35.5 206.8,38.5 210.0,40.0 C213.2,41.5 216.3,43.5 219.0,45.0 C221.7,46.5 223.2,48.0 226.0,49.0 C228.8,50.0 233.3,50.7 236.0,51.0 C238.7,51.3 241.3,49.5 242.0,51.0 C242.7,52.5 239.8,57.0 240.0,60.0 C240.2,63.0 243.2,66.0 243.5,69.0 C243.8,72.0 242.2,74.5 242.0,78.0 C241.8,81.5 243.2,88.5 242.0,90.0 C240.8,91.5 237.0,88.7 234.5,87.0 C232.0,85.3 228.2,83.0 227.0,80.0 C225.8,77.0 227.6,72.5 227.0,69.0 C226.4,65.5 225.2,61.8 223.5,59.0 C221.8,56.2 219.5,54.2 217.0,52.5 C214.5,50.8 211.4,50.6 208.6,49.0 C205.8,47.4 201.4,45.2 200.0,43.0 C198.6,40.8 198.3,36.5 200.0,36.0 Z" fill="#fff"/>
<path d="M229,8 C229.7,6.7 232.2,6.8 234.0,9.0 C235.8,11.2 238.2,18.0 240.0,21.0 C241.8,24.0 244.7,23.0 245.0,27.0 C245.3,31.0 243.3,41.2 242.0,45.0 C240.7,48.8 238.8,49.7 237.0,50.0 C235.2,50.3 232.2,48.7 231.0,47.0 C229.8,45.3 230.8,42.0 230.0,40.0 C229.2,38.0 227.3,36.2 226.0,35.0 C224.7,33.8 222.2,34.8 222.0,33.0 C221.8,31.2 223.7,26.7 225.0,24.0 C226.3,21.3 229.3,19.7 230.0,17.0 C230.7,14.3 228.3,9.3 229.0,8.0 Z" fill="#fff"/>
<path d="M249,21 C250.2,18.8 256.8,18.5 259.0,20.0 C261.2,21.5 261.8,26.7 262.0,30.0 C262.2,33.3 260.0,37.0 260.0,40.0 C260.0,43.0 262.3,45.2 262.0,48.0 C261.7,50.8 259.3,55.3 258.0,57.0 C256.7,58.7 254.2,59.5 254.0,58.0 C253.8,56.5 256.8,52.2 256.5,48.0 C256.2,43.8 253.2,37.5 252.0,33.0 C250.8,28.5 247.8,23.2 249.0,21.0 Z" fill="#fff"/>
<path d="M283,17 C285.0,16.3 293.5,16.0 296.0,19.0 C298.5,22.0 297.8,29.8 298.0,35.0 C298.2,40.2 297.0,46.2 297.0,50.0 C297.0,53.8 298.8,56.2 298.0,58.0 C297.2,59.8 293.8,62.0 292.0,61.0 C290.2,60.0 288.5,55.0 287.5,52.0 C286.5,49.0 286.0,46.2 286.0,43.0 C286.0,39.8 287.8,36.3 287.5,33.0 C287.2,29.7 284.8,25.7 284.0,23.0 C283.2,20.3 281.0,17.7 283.0,17.0 Z" fill="#fff"/>
<path d="M296,57 C297.0,53.8 302.3,58.2 305.0,57.0 C307.7,55.8 309.5,52.2 312.0,50.0 C314.5,47.8 318.3,43.2 320.0,44.0 C321.7,44.8 322.7,51.5 322.0,55.0 C321.3,58.5 317.8,61.7 316.0,65.0 C314.2,68.3 312.7,72.0 311.0,75.0 C309.3,78.0 308.0,82.8 306.0,83.0 C304.0,83.2 300.7,80.3 299.0,76.0 C297.3,71.7 295.0,60.2 296.0,57.0 Z" fill="#fff"/>
<path d="M315.5,2 C315.8,0.0 317.9,-1.3 319.0,0.0 C320.1,1.3 321.4,5.0 322.0,10.0 C322.6,15.0 322.7,24.2 322.5,30.0 C322.3,35.8 321.8,41.7 321.0,45.0 C320.2,48.3 318.4,52.5 318.0,50.0 C317.6,47.5 318.7,36.3 318.5,30.0 C318.3,23.7 317.5,16.7 317.0,12.0 C316.5,7.3 315.2,4.0 315.5,2.0 Z" fill="#fff"/>
<path d="M311,85 C311.7,83.8 315.8,84.8 318.0,86.0 C320.2,87.2 322.3,89.5 324.0,92.0 C325.7,94.5 326.9,97.6 328.4,101.1 C329.9,104.6 331.0,109.2 333.0,113.2 C335.0,117.2 337.9,121.8 340.4,125.3 C342.9,128.8 346.4,132.7 347.8,134.5 C349.2,136.3 349.4,136.4 348.8,136.4 C348.2,136.4 346.0,136.1 344.1,134.5 C342.2,132.9 339.6,129.4 337.6,127.1 C335.6,124.8 334.1,123.1 332.1,120.6 C330.1,118.1 327.3,114.6 325.6,112.3 C323.9,110.0 323.2,109.1 321.9,106.7 C320.6,104.3 319.3,100.3 318.0,98.0 C316.7,95.7 315.2,95.2 314.0,93.0 C312.8,90.8 310.3,86.2 311.0,85.0 Z" fill="#fff"/>
<path d="M205.9,153.4 C208.1,151.9 211.7,150.0 214.6,149.0 C217.5,148.0 220.7,147.5 223.4,147.5 C226.1,147.5 230.7,148.0 230.7,149.0 C230.7,150.0 226.3,152.4 223.4,153.4 C220.5,154.4 216.0,153.4 213.1,154.8 C210.2,156.2 208.6,160.4 205.9,162.1 C203.2,163.8 199.1,165.0 197.1,165.0 C195.1,165.0 193.5,163.3 194.2,162.1 C194.9,160.9 199.6,159.2 201.5,157.8 C203.4,156.4 203.7,154.9 205.9,153.4 Z" fill="#fff"/>
<g clip-path="url(#clipPangea)">
<path d="M203,168 L197,178 L187,190.7 L188.3,200.2 L189.9,209.8 L193.9,219.3 L200.2,228.8 L208.2,235.2 L216.1,240 L222.5,247.9 L227.3,259.1 L232,271.8 L235.2,284.5 L236.8,290 L238.8,299.2 L244.3,309.6 L249,320.7 L255.3,328.6 L264.8,333.3 L277.5,338.1 L293.3,342 L309.2,343.1 L335,343.5 L358,343.5 L372,343 L388,335 L404,328.6 L424.2,324 L436.4,317.1 L448.7,307.2 L458.5,299.9 L468.3,292.5 L478.2,287.6 L485.5,292.5 L492.9,288.8 L499,275.3 L501.5,258.2 L505.2,248.8 L497.8,250.8 L488,258.2 L478.2,269.2 L468.3,276.6 L467.1,270.4 L468.3,260.6 L461,256.9 L446.3,252 L431.5,248.8 L419.3,250.8 L407,255.7 L400.9,250.8 L400.9,233.6 L403.3,216.4 L402.1,199.3 L394.7,179.6" fill="none" stroke="#5f5e23" stroke-width="11" stroke-linejoin="round"/>
<path d="M394.7,179.6 L385,160 L375.7,142 L368.3,133.6 L364.5,132.2 L357.1,134.5 L348.8,136.4" fill="none" stroke="#5f5e23" stroke-width="5" stroke-linejoin="round"/>
<path d="M347.6,256.4 C351.1,256.3 358.9,255.3 365.0,256.0 C371.1,256.7 372.4,258.2 378.0,260.0 C383.6,261.8 387.6,262.4 393.0,265.0 C398.4,267.6 401.5,269.0 405.0,273.0 C408.5,277.0 409.9,279.6 410.5,285.0 C411.1,290.4 410.0,294.4 408.0,300.0 C406.0,305.6 404.0,308.9 400.5,313.0 C397.0,317.1 392.4,319.2 390.4,320.7" fill="none" stroke="#5f5e23" stroke-width="4.5" stroke-linecap="round" stroke-linejoin="round"/>
<path d="M195,180 C197.9,177.0 203.2,169.5 209.6,165.0 C216.0,160.5 221.7,160.0 227.0,157.7 C232.3,155.4 232.0,154.8 236.0,153.3 C240.0,151.8 244.8,150.7 247.0,150.0" fill="none" stroke="#5f5e23" stroke-width="4" stroke-linecap="round" stroke-linejoin="round"/>
<path d="M284.2,101 C287.9,101.4 296.8,101.0 302.8,102.8 C308.8,104.6 309.6,106.5 314.0,110.2 C318.4,113.9 320.6,117.3 325.0,121.4 C329.4,125.5 331.7,127.6 336.2,130.6 C340.7,133.6 342.9,135.4 347.4,136.2 C351.9,137.0 354.0,135.1 358.5,134.4 C363.0,133.7 367.7,132.9 370.0,132.5" fill="none" stroke="#5f5e23" stroke-width="3" stroke-linecap="round" stroke-linejoin="round"/>
<path d="M349,147 C349.4,148.3 350.1,147.4 351.1,153.3 C352.1,159.2 352.5,167.9 354.0,176.7 C355.5,185.5 356.3,188.9 358.4,197.1 C360.5,205.3 363.1,213.4 364.3,217.5" fill="none" stroke="#5f5e23" stroke-width="3" stroke-linecap="round" stroke-linejoin="round"/>
<path d="M376,157 C377.2,159.0 379.0,163.2 382.0,167.0 C385.0,170.8 389.2,174.2 391.0,176.0" fill="none" stroke="#5f5e23" stroke-width="2.5" stroke-linecap="round" stroke-linejoin="round"/>
<path d="M361,207 C360.4,208.2 359.2,208.8 357.8,213.0 C356.4,217.2 354.8,225.0 354.1,228.0" fill="none" stroke="#5f5e23" stroke-width="2.5" stroke-linecap="round" stroke-linejoin="round"/>
<path d="M420,262 C424.0,263.2 433.0,265.4 440.0,268.0 C447.0,270.6 449.0,272.2 455.0,275.0 C461.0,277.8 467.0,280.6 470.0,282.0" fill="none" stroke="#5f5e23" stroke-width="2.5" stroke-linecap="round" stroke-linejoin="round"/>
<path d="M362,200 C363.5,198.7 370.1,197.9 373.0,197.0 C375.9,196.1 381.6,194.3 384.0,193.0 C386.4,191.7 389.3,186.5 391.0,187.0 C392.7,187.5 395.5,193.9 397.0,197.0 C398.5,200.1 401.6,206.7 402.0,210.0 C402.4,213.3 400.9,219.1 400.0,222.0 C399.1,224.9 395.9,228.9 395.0,232.0 C394.1,235.1 393.7,242.3 393.0,245.0 C392.3,247.7 390.9,251.6 390.0,252.0 C389.1,252.4 386.3,250.3 386.0,248.0 C385.7,245.7 387.5,238.5 388.0,235.0 C388.5,231.5 390.0,225.3 390.0,222.0 C390.0,218.7 389.3,212.3 388.0,210.0 C386.7,207.7 382.4,205.5 380.0,205.0 C377.6,204.5 372.4,205.7 370.0,206.0 C367.6,206.3 363.1,207.8 362.0,207.0 C360.9,206.2 360.5,201.3 362.0,200.0 Z" fill="#5f5e23"/>
<path d="M259,287 C261.0,287.3 266.1,295.4 271.0,297.0 C275.9,298.6 291.1,299.0 296.0,299.0 C300.9,299.0 306.3,296.5 308.0,297.0 C309.7,297.5 309.3,301.3 309.0,303.0 C308.7,304.7 307.7,308.7 306.0,310.0 C304.3,311.3 298.4,311.9 296.0,313.0 C293.6,314.1 289.7,316.5 288.0,318.0 C286.3,319.5 286.5,323.2 283.0,324.0 C279.5,324.8 265.1,324.8 262.0,324.0 C258.9,323.2 258.3,318.7 260.0,318.0 C261.7,317.3 272.2,319.4 275.0,319.0 C277.8,318.6 281.9,315.9 281.0,315.0 C280.1,314.1 271.1,313.2 268.0,312.0 C264.9,310.8 259.6,308.3 258.0,306.0 C256.4,303.7 255.9,297.5 256.0,295.0 C256.1,292.5 257.0,286.7 259.0,287.0 Z" fill="#5f5e23"/>
<path d="M367.7,323.8 C368.3,322.7 371.2,322.0 372.5,322.2 C373.8,322.4 376.4,324.1 377.2,325.4 C378.0,326.7 379.4,330.6 378.8,331.7 C378.2,332.8 374.0,333.5 372.5,333.3 C371.0,333.1 368.3,331.5 367.7,330.2 C367.1,328.9 367.1,324.9 367.7,323.8 Z" fill="#5f5e23"/>
<path d="M288,343 C286.4,342.5 290.7,337.1 292.0,336.0 C293.3,334.9 296.4,334.5 298.0,335.0 C299.6,335.5 305.3,338.9 304.0,340.0 C302.7,341.1 289.6,343.5 288.0,343.0 Z" fill="#5f5e23"/>
<path d="M205,164 C206.3,162.7 216.5,157.5 220.0,156.0 C223.5,154.5 228.7,152.4 231.0,152.5 C233.3,152.6 236.3,155.6 237.0,157.0 C237.7,158.4 238.0,162.2 236.0,163.0 C234.0,163.8 225.5,162.6 222.0,163.0 C218.5,163.4 212.3,165.9 210.0,166.0 C207.7,166.1 203.7,165.3 205.0,164.0 Z" fill="#5f5e23"/>
</g>
<path d="M274.8,36.3 C276.8,36.2 279.8,37.7 281.0,39.0 C282.2,40.3 283.7,44.0 284.0,46.0 C284.3,48.0 283.9,52.1 283.0,54.0 C282.1,55.9 278.5,57.2 277.0,60.0 C275.5,62.8 272.8,69.7 272.0,75.0 C271.2,80.3 270.7,92.7 271.0,100.0 C271.3,107.3 272.5,122.7 274.0,130.0 C275.5,137.3 279.2,149.0 282.0,155.0 C284.8,161.0 290.6,169.7 295.0,175.0 C299.4,180.3 310.3,188.3 315.0,195.0 C319.7,201.7 326.0,219.0 330.0,225.0 C334.0,231.0 340.4,237.9 345.0,240.0 C349.6,242.1 359.4,240.4 364.3,240.9 C369.2,241.4 376.7,241.9 381.8,243.8 C386.9,245.7 396.8,253.2 402.2,255.5 C407.6,257.8 418.7,259.0 422.6,261.3 C426.5,263.6 430.6,269.5 431.4,273.0 C432.2,276.5 430.4,283.3 428.5,287.6 C426.6,291.9 420.3,300.7 416.8,305.0 C413.3,309.3 405.3,317.4 402.2,319.7 C399.1,322.0 395.7,323.0 393.4,322.6 C391.1,322.2 387.8,319.5 384.7,316.8 C381.6,314.1 374.7,305.3 370.0,302.2 C365.3,299.1 355.1,294.6 349.7,293.4 C344.3,292.2 335.8,292.9 329.2,293.4 C322.6,293.9 308.2,301.2 300.0,297.0 C291.8,292.8 273.8,267.9 268.0,262.0 C262.2,256.1 259.0,255.8 256.3,252.6 C253.6,249.4 249.1,242.7 247.5,238.0 C245.9,233.3 244.8,221.8 244.6,217.5 C244.4,213.2 244.8,209.0 246.0,205.9 C247.2,202.8 251.3,196.5 253.4,194.2 C255.5,191.9 259.5,189.5 262.0,188.4 C264.5,187.3 271.6,187.7 272.0,186.0 C272.4,184.3 267.7,178.4 265.0,176.0 C262.3,173.6 255.1,170.4 252.0,168.0 C248.9,165.6 244.1,161.7 242.0,158.0 C239.9,154.3 237.3,144.4 236.0,140.0 C234.7,135.6 232.7,128.3 232.0,125.0 C231.3,121.7 230.7,118.4 231.0,115.0 C231.3,111.6 233.3,103.2 234.5,99.5 C235.7,95.8 238.2,90.8 240.0,87.0 C241.8,83.2 245.7,75.3 248.0,71.0 C250.3,66.7 254.6,59.1 257.0,55.0 C259.4,50.9 263.6,42.5 266.0,40.0 C268.4,37.5 272.8,36.4 274.8,36.3 Z" fill="#942b68" fill-opacity="0.73"/>
<path d="M279.3,49.5 C281.7,49.4 285.0,49.9 287.0,51.0 C289.0,52.1 292.5,55.2 294.3,57.4 C296.1,59.6 299.1,64.2 300.8,67.2 C302.5,70.2 305.6,76.1 307.2,79.6 C308.8,83.1 311.5,89.8 313.1,93.5 C314.7,97.2 317.2,104.0 319.1,107.5 C321.0,111.0 325.0,116.2 327.1,119.4 C329.2,122.6 333.1,128.6 335.0,131.3 C336.9,134.0 339.0,137.8 341.0,140.0 C343.0,142.2 347.7,144.8 349.7,147.5 C351.7,150.2 354.8,156.9 356.0,160.0 C357.2,163.1 357.7,164.8 358.4,170.9 C359.1,177.0 362.1,196.6 361.3,205.9 C360.5,215.2 355.7,232.8 352.6,240.9 C349.5,249.0 341.9,261.0 338.0,267.0 C334.1,273.0 327.7,282.3 323.4,286.0 C319.1,289.7 310.6,293.1 305.9,294.9 C301.2,296.7 292.3,299.4 288.4,299.2 C284.5,299.0 279.4,296.5 276.7,293.4 C274.0,290.3 269.0,280.6 268.0,275.9 C267.0,271.2 268.4,263.1 269.4,258.4 C270.4,253.7 273.9,246.4 275.3,240.9 C276.7,235.4 279.4,223.0 279.6,217.5 C279.8,212.0 277.8,203.5 276.7,200.0 C275.6,196.5 274.9,194.4 271.0,191.3 C267.1,188.2 252.6,181.0 247.5,176.7 C242.4,172.4 235.1,163.9 233.0,159.2 C230.9,154.5 231.4,145.9 231.5,141.7 C231.6,137.5 233.0,131.4 233.5,127.4 C234.0,123.4 234.7,115.7 235.5,111.4 C236.3,107.1 238.4,98.9 239.5,95.5 C240.6,92.1 241.9,88.5 243.5,85.6 C245.1,82.7 249.1,76.9 251.4,73.6 C253.7,70.3 258.3,63.6 260.7,60.7 C263.1,57.8 266.8,53.5 269.3,52.0 C271.8,50.5 276.9,49.6 279.3,49.5 Z" fill="#34363b" fill-opacity="0.52"/>
<clipPath id="clipDarkA"><path d="M279.3,49.5 C281.7,49.4 285.0,49.9 287.0,51.0 C289.0,52.1 292.5,55.2 294.3,57.4 C296.1,59.6 299.1,64.2 300.8,67.2 C302.5,70.2 305.6,76.1 307.2,79.6 C308.8,83.1 311.5,89.8 313.1,93.5 C314.7,97.2 317.2,104.0 319.1,107.5 C321.0,111.0 325.0,116.2 327.1,119.4 C329.2,122.6 333.1,128.6 335.0,131.3 C336.9,134.0 339.0,137.8 341.0,140.0 C343.0,142.2 347.7,144.8 349.7,147.5 C351.7,150.2 354.8,156.9 356.0,160.0 C357.2,163.1 357.7,164.8 358.4,170.9 C359.1,177.0 362.1,196.6 361.3,205.9 C360.5,215.2 355.7,232.8 352.6,240.9 C349.5,249.0 341.9,261.0 338.0,267.0 C334.1,273.0 327.7,282.3 323.4,286.0 C319.1,289.7 310.6,293.1 305.9,294.9 C301.2,296.7 292.3,299.4 288.4,299.2 C284.5,299.0 279.4,296.5 276.7,293.4 C274.0,290.3 269.0,280.6 268.0,275.9 C267.0,271.2 268.4,263.1 269.4,258.4 C270.4,253.7 273.9,246.4 275.3,240.9 C276.7,235.4 279.4,223.0 279.6,217.5 C279.8,212.0 277.8,203.5 276.7,200.0 C275.6,196.5 274.9,194.4 271.0,191.3 C267.1,188.2 252.6,181.0 247.5,176.7 C242.4,172.4 235.1,163.9 233.0,159.2 C230.9,154.5 231.4,145.9 231.5,141.7 C231.6,137.5 233.0,131.4 233.5,127.4 C234.0,123.4 234.7,115.7 235.5,111.4 C236.3,107.1 238.4,98.9 239.5,95.5 C240.6,92.1 241.9,88.5 243.5,85.6 C245.1,82.7 249.1,76.9 251.4,73.6 C253.7,70.3 258.3,63.6 260.7,60.7 C263.1,57.8 266.8,53.5 269.3,52.0 C271.8,50.5 276.9,49.6 279.3,49.5 Z"/></clipPath>
<g clip-path="url(#clipDarkA)">
<path d="M274.8,36.3 C276.8,36.2 279.8,37.7 281.0,39.0 C282.2,40.3 283.7,44.0 284.0,46.0 C284.3,48.0 283.9,52.1 283.0,54.0 C282.1,55.9 278.5,57.2 277.0,60.0 C275.5,62.8 272.8,69.7 272.0,75.0 C271.2,80.3 270.7,92.7 271.0,100.0 C271.3,107.3 272.5,122.7 274.0,130.0 C275.5,137.3 279.2,149.0 282.0,155.0 C284.8,161.0 290.6,169.7 295.0,175.0 C299.4,180.3 310.3,188.3 315.0,195.0 C319.7,201.7 326.0,219.0 330.0,225.0 C334.0,231.0 340.4,237.9 345.0,240.0 C349.6,242.1 359.4,240.4 364.3,240.9 C369.2,241.4 376.7,241.9 381.8,243.8 C386.9,245.7 396.8,253.2 402.2,255.5 C407.6,257.8 418.7,259.0 422.6,261.3 C426.5,263.6 430.6,269.5 431.4,273.0 C432.2,276.5 430.4,283.3 428.5,287.6 C426.6,291.9 420.3,300.7 416.8,305.0 C413.3,309.3 405.3,317.4 402.2,319.7 C399.1,322.0 395.7,323.0 393.4,322.6 C391.1,322.2 387.8,319.5 384.7,316.8 C381.6,314.1 374.7,305.3 370.0,302.2 C365.3,299.1 355.1,294.6 349.7,293.4 C344.3,292.2 335.8,292.9 329.2,293.4 C322.6,293.9 308.2,301.2 300.0,297.0 C291.8,292.8 273.8,267.9 268.0,262.0 C262.2,256.1 259.0,255.8 256.3,252.6 C253.6,249.4 249.1,242.7 247.5,238.0 C245.9,233.3 244.8,221.8 244.6,217.5 C244.4,213.2 244.8,209.0 246.0,205.9 C247.2,202.8 251.3,196.5 253.4,194.2 C255.5,191.9 259.5,189.5 262.0,188.4 C264.5,187.3 271.6,187.7 272.0,186.0 C272.4,184.3 267.7,178.4 265.0,176.0 C262.3,173.6 255.1,170.4 252.0,168.0 C248.9,165.6 244.1,161.7 242.0,158.0 C239.9,154.3 237.3,144.4 236.0,140.0 C234.7,135.6 232.7,128.3 232.0,125.0 C231.3,121.7 230.7,118.4 231.0,115.0 C231.3,111.6 233.3,103.2 234.5,99.5 C235.7,95.8 238.2,90.8 240.0,87.0 C241.8,83.2 245.7,75.3 248.0,71.0 C250.3,66.7 254.6,59.1 257.0,55.0 C259.4,50.9 263.6,42.5 266.0,40.0 C268.4,37.5 272.8,36.4 274.8,36.3 Z" fill="#55555b" fill-opacity="0.55"/>
<path d="M280,103 C283.0,103.2 288.0,101.6 295.0,104.0 C302.0,106.4 307.4,109.8 315.0,115.0 C322.6,120.2 329.4,127.0 333.0,130.0" fill="none" stroke="#56584b" stroke-width="8" stroke-linecap="round"/>
<path d="M300,160 C304.0,158.0 311.0,152.0 320.0,150.0 C329.0,148.0 340.0,150.0 345.0,150.0" fill="none" stroke="#5a5b50" stroke-width="5" stroke-linecap="round"/>
</g>
<path d="M279.3,49.5 C281.7,49.4 285.0,49.9 287.0,51.0 C289.0,52.1 292.5,55.2 294.3,57.4 C296.1,59.6 299.1,64.2 300.8,67.2 C302.5,70.2 305.6,76.1 307.2,79.6 C308.8,83.1 311.5,89.8 313.1,93.5 C314.7,97.2 317.2,104.0 319.1,107.5 C321.0,111.0 325.0,116.2 327.1,119.4 C329.2,122.6 333.1,128.6 335.0,131.3 C336.9,134.0 339.0,137.8 341.0,140.0 C343.0,142.2 347.7,144.8 349.7,147.5 C351.7,150.2 354.8,156.9 356.0,160.0 C357.2,163.1 357.7,164.8 358.4,170.9 C359.1,177.0 362.1,196.6 361.3,205.9 C360.5,215.2 355.7,232.8 352.6,240.9 C349.5,249.0 341.9,261.0 338.0,267.0 C334.1,273.0 327.7,282.3 323.4,286.0 C319.1,289.7 310.6,293.1 305.9,294.9 C301.2,296.7 292.3,299.4 288.4,299.2 C284.5,299.0 279.4,296.5 276.7,293.4 C274.0,290.3 269.0,280.6 268.0,275.9 C267.0,271.2 268.4,263.1 269.4,258.4 C270.4,253.7 273.9,246.4 275.3,240.9 C276.7,235.4 279.4,223.0 279.6,217.5 C279.8,212.0 277.8,203.5 276.7,200.0 C275.6,196.5 274.9,194.4 271.0,191.3 C267.1,188.2 252.6,181.0 247.5,176.7 C242.4,172.4 235.1,163.9 233.0,159.2 C230.9,154.5 231.4,145.9 231.5,141.7 C231.6,137.5 233.0,131.4 233.5,127.4 C234.0,123.4 234.7,115.7 235.5,111.4 C236.3,107.1 238.4,98.9 239.5,95.5 C240.6,92.1 241.9,88.5 243.5,85.6 C245.1,82.7 249.1,76.9 251.4,73.6 C253.7,70.3 258.3,63.6 260.7,60.7 C263.1,57.8 266.8,53.5 269.3,52.0 C271.8,50.5 276.9,49.6 279.3,49.5 Z" fill="none" stroke="#2a2a2e" stroke-width="0.6"/>
<text x="247.5" y="313" font-size="14" fill="#8d8c4c" stroke="#8d8c4c" stroke-width="0.5" textLength="84.5" lengthAdjust="spacing">Gondwana</text>
<g stroke="#1a1718" stroke-width="1.3"><line x1="277.5" y1="60" x2="265" y2="36.3"/><line x1="277.5" y1="60" x2="272" y2="35.2"/><line x1="277.5" y1="60" x2="249.8" y2="74.8"/><line x1="277.5" y1="60" x2="253" y2="78"/><line x1="277.5" y1="60" x2="299.1" y2="68.3"/><line x1="277.5" y1="60" x2="296.4" y2="77"/></g><circle cx="277.5" cy="60" r="8.5" fill="#1a1718"/><text x="277.5" y="66.66" text-anchor="middle" font-size="18.5" font-weight="bold" fill="#fff" textLength="15" lengthAdjust="spacingAndGlyphs">I2</text>
<g stroke="#1a1718" stroke-width="1.3"><line x1="240.2" y1="159.2" x2="228.6" y2="138.8"/><line x1="240.2" y1="159.2" x2="236.5" y2="137.3"/><line x1="240.2" y1="159.2" x2="212.5" y2="176.7"/><line x1="240.2" y1="159.2" x2="216.9" y2="181"/><line x1="240.2" y1="159.2" x2="262" y2="181"/><line x1="240.2" y1="159.2" x2="258" y2="170"/></g><circle cx="240.2" cy="159.2" r="8.5" fill="#1a1718"/><text x="240.2" y="165.86" text-anchor="middle" font-size="18.5" font-weight="bold" fill="#fff">8</text>
<g stroke="#1a1718" stroke-width="1.3"><line x1="284" y1="198.6" x2="272.3" y2="176.7"/><line x1="284" y1="198.6" x2="279.6" y2="176.7"/><line x1="284" y1="198.6" x2="256.3" y2="214.6"/><line x1="284" y1="198.6" x2="260.7" y2="217.5"/><line x1="284" y1="198.6" x2="305.9" y2="217.5"/><line x1="284" y1="198.6" x2="305.9" y2="207.3"/></g><circle cx="284" cy="198.6" r="8.5" fill="#1a1718"/><text x="284" y="205.26" text-anchor="middle" font-size="18.5" font-weight="bold" fill="#fff" textLength="15" lengthAdjust="spacingAndGlyphs">I0</text>
<g stroke="#1a1718" stroke-width="1.3"><line x1="355" y1="194.8" x2="343.3" y2="173.8"/><line x1="355" y1="194.8" x2="351.1" y2="172.3"/><line x1="355" y1="194.8" x2="328.7" y2="210.2"/><line x1="355" y1="194.8" x2="332.2" y2="214.6"/><line x1="355" y1="194.8" x2="377.4" y2="204.4"/><line x1="355" y1="194.8" x2="376" y2="216"/></g><circle cx="355" cy="194.8" r="8.5" fill="#1a1718"/><text x="355" y="201.46" text-anchor="middle" font-size="18.5" font-weight="bold" fill="#fff" textLength="15" lengthAdjust="spacingAndGlyphs">I3</text>
<g stroke="#1a1718" stroke-width="1.3"><line x1="338.6" y1="261.3" x2="330.7" y2="238"/><line x1="338.6" y1="261.3" x2="338" y2="236.5"/><line x1="338.6" y1="261.3" x2="316.1" y2="275.9"/><line x1="338.6" y1="261.3" x2="319" y2="280.3"/><line x1="338.6" y1="261.3" x2="364.3" y2="268.6"/><line x1="338.6" y1="261.3" x2="364.3" y2="280.3"/></g><circle cx="338.6" cy="261.3" r="8.5" fill="#1a1718"/><text x="338.6" y="267.96" text-anchor="middle" font-size="18.5" font-weight="bold" fill="#fff" textLength="15" lengthAdjust="spacingAndGlyphs">II</text>
<g stroke="#1a1718" stroke-width="1.3"><line x1="269.4" y1="279.4" x2="259.2" y2="255.5"/><line x1="269.4" y1="279.4" x2="266.5" y2="254"/><line x1="269.4" y1="279.4" x2="244.6" y2="293.4"/><line x1="269.4" y1="279.4" x2="247.5" y2="297.8"/><line x1="269.4" y1="279.4" x2="292.8" y2="287.6"/><line x1="269.4" y1="279.4" x2="292.8" y2="298.7"/></g><circle cx="269.4" cy="279.4" r="8.5" fill="#1a1718"/><text x="269.4" y="286.06" text-anchor="middle" font-size="18.5" font-weight="bold" fill="#fff">9</text>
<text x="286.3" y="118.4" text-anchor="middle" font-size="15.8" font-weight="bold" fill="#fff" stroke="#fff" stroke-width="0.45">Pangean</text>
<text x="286.3" y="134.8" text-anchor="middle" font-size="15.8" font-weight="bold" fill="#fff" stroke="#fff" stroke-width="0.45">LLSVP</text>
<text x="286.3" y="151" text-anchor="middle" font-size="15.8" font-weight="bold" fill="#fff" stroke="#fff" stroke-width="0.45">defined</text>
<text x="286.3" y="166.5" text-anchor="middle" font-size="15.8" font-weight="bold" fill="#fff" stroke="#fff" stroke-width="0.45">by LIPs</text>
<text x="4.4" y="196.4" text-anchor="start" font-size="16" font-weight="bold" fill="#fff" stroke="#fff" stroke-width="0.45">Pacific</text>
<text x="7.3" y="212.4" text-anchor="start" font-size="16" font-weight="bold" fill="#fff" stroke="#fff" stroke-width="0.45">LLSVP</text>
<text x="16" y="228.4" text-anchor="start" font-size="16" font-weight="bold" fill="#fff" stroke="#fff" stroke-width="0.45">defined by</text>
<text x="23.4" y="244.6" text-anchor="start" font-size="16" font-weight="bold" fill="#fff" stroke="#fff" stroke-width="0.45">seismic velocity</text>
<text x="167.5" y="278" text-anchor="middle" font-size="15.6" font-weight="bold" fill="#fff" stroke="#fff" stroke-width="0.45">African LLSVP</text>
<text x="167.5" y="294.5" text-anchor="middle" font-size="15.6" font-weight="bold" fill="#fff" stroke="#fff" stroke-width="0.45">defined by</text>
<text x="168.3" y="310.5" text-anchor="middle" font-size="15.6" font-weight="bold" fill="#fff" stroke="#fff" stroke-width="0.45">seismic velocity</text>
<text x="643.5" y="178" text-anchor="middle" font-size="16" font-weight="bold" fill="#fff" stroke="#fff" stroke-width="0.45">Pacific</text>
<text x="643.5" y="194.5" text-anchor="middle" font-size="16" font-weight="bold" fill="#fff" stroke="#fff" stroke-width="0.45">LLSVP</text>
<path d="M218.3,263.3 L243,235" stroke="#942b68" stroke-width="1.6"/><path d="M247,231 L238.5,235.2 L243.3,239.5 Z" fill="#942b68"/>
<text x="551" y="253.8" text-anchor="start" font-size="16" font-weight="bold" fill="#fff" textLength="91.2" lengthAdjust="spacingAndGlyphs" stroke="#fff" stroke-width="0.4">Ethiopia 30 Ma</text>
<circle cx="652.4" cy="248.4" r="7.2" fill="#1a1718"/><text x="652.4" y="254.34" text-anchor="middle" font-size="16.5" font-weight="bold" fill="#fff" textLength="10.5" lengthAdjust="spacingAndGlyphs">I3</text>
<text x="561.6" y="270.3" text-anchor="start" font-size="16" font-weight="bold" fill="#fff" textLength="68.4" lengthAdjust="spacingAndGlyphs" stroke="#fff" stroke-width="0.4">NAIP 59 Ma</text>
<circle cx="639.5" cy="264.8" r="7.2" fill="#1a1718"/><text x="639.5" y="270.74" text-anchor="middle" font-size="16.5" font-weight="bold" fill="#fff" textLength="10.5" lengthAdjust="spacingAndGlyphs">I2</text>
<text x="527.6" y="287" text-anchor="start" font-size="16" font-weight="bold" fill="#fff" textLength="84.9" lengthAdjust="spacingAndGlyphs" stroke="#fff" stroke-width="0.4">Deccan 65 Ma</text>
<circle cx="623.8" cy="282.8" r="7.2" fill="#1a1718"/><text x="623.8" y="288.74" text-anchor="middle" font-size="16.5" font-weight="bold" fill="#fff" textLength="10.5" lengthAdjust="spacingAndGlyphs">II</text>
<text x="504.2" y="304" text-anchor="start" font-size="16" font-weight="bold" fill="#fff" textLength="89.2" lengthAdjust="spacingAndGlyphs" stroke="#fff" stroke-width="0.4">Parana 130 Ma</text>
<circle cx="603.4" cy="299.4" r="7.2" fill="#1a1718"/><text x="603.4" y="305.34" text-anchor="middle" font-size="16.5" font-weight="bold" fill="#fff" textLength="10.5" lengthAdjust="spacingAndGlyphs">I0</text>
<text x="480" y="320.8" text-anchor="start" font-size="16" font-weight="bold" fill="#fff" textLength="83.3" lengthAdjust="spacingAndGlyphs" stroke="#fff" stroke-width="0.4">Karoo 183 Ma</text>
<circle cx="576" cy="315.7" r="7.2" fill="#1a1718"/><text x="576" y="321.64" text-anchor="middle" font-size="16.5" font-weight="bold" fill="#fff" textLength="8" lengthAdjust="spacingAndGlyphs">9</text>
<text x="443.3" y="337.5" text-anchor="start" font-size="16" font-weight="bold" fill="#fff" textLength="83.4" lengthAdjust="spacingAndGlyphs" stroke="#fff" stroke-width="0.4">CAMP 200 Ma</text>
<circle cx="539.3" cy="331.7" r="7.2" fill="#1a1718"/><text x="539.3" y="337.64" text-anchor="middle" font-size="16.5" font-weight="bold" fill="#fff" textLength="8" lengthAdjust="spacingAndGlyphs">8</text>
<text x="153" y="24.6" font-size="28.4" font-weight="bold" fill="#231f20" textLength="13.7" lengthAdjust="spacingAndGlyphs">a</text>
</g>
<ellipse cx="343.1" cy="172" rx="345" ry="206" fill="none" stroke="#fff" stroke-width="2"/>
</g>

<rect x="0" y="0" width="1200" height="1" fill="#fff" fill-opacity="0.5"/>
<text x="328.5" y="367.5" text-anchor="middle" font-size="17" font-weight="bold" fill="#231f20" textLength="143.3" lengthAdjust="spacing">Pangea breakup</text>
<text x="826.6" y="367.5" text-anchor="middle" font-size="17.5" font-weight="bold" fill="#231f20" textLength="145.6" lengthAdjust="spacing">Rodinia breakup</text>

<!-- chart -->
<g id="chart">
<path d="M290.0,706 L290.0,590.2 L342.5,590.2 L342.5,664.0 L393.9,664.0 L393.9,649.4 L446.0,649.4 L446.0,506.6 L498.5,506.6 L498.5,577.5 L550.7,577.5 L550.7,433.3 L600.5,433.3 L600.5,461.6 L651.8,461.6 L651.8,693.0 L701.5,693.0 L701.5,664.0 L752.8,664.0 L752.8,677.5 L803.5,677.5 L803.5,578.0 L856.7,578.0 L856.7,634.0 L907.2,634.0 L907.2,691.5 L955.7,691.5 L955.7,706 Z" fill="#d6e2ef" stroke="#9dc5e5" stroke-width="1.6"/>
<path d="M290.0,622.4 L292.4,625.8 L294.5,634.2 L300.2,636.0 L303.6,631.0 L307.0,622.4 L310.4,630.8 L313.8,641.0 L317.1,636.0 L320.5,617.3 L322.9,625.8 L325.0,608.8 L329.0,602.0 L333.4,559.8 L335.7,575.0 L337.4,602.0 L342.5,614.0 L349.3,608.8 L352.7,592.0 L356.0,568.3 L359.4,581.8 L362.0,600.4 L366.2,592.0 L369.0,570.0 L371.3,575.0 L373.6,602.0 L376.3,610.5 L379.7,595.3 L383.0,619.0 L387.2,634.2 L391.6,636.0 L395.0,622.4 L399.3,602.0 L403.4,576.7 L406.8,575.0 L410.2,581.8 L413.5,585.0 L418.6,592.0 L422.0,592.0 L423.7,598.7 L427.1,605.5 L429.8,624.0 L433.8,619.0 L437.2,615.6 L440.6,620.7 L444.0,624.0 L447.4,627.5 L450.0,592.0 L452.5,576.7 L457.5,578.4 L462.0,554.4 L465.0,514.6 L468.7,522.5 L471.9,562.3 L475.8,602.2 L481.0,620.0 L485.8,614.0 L489.8,612.0 L493.8,600.2 L497.7,578.3 L500.5,534.5 L501.7,452.8 L503.7,486.7 L505.7,490.7 L509.7,488.7 L512.5,498.6 L515.7,486.7 L517.7,540.4 L521.6,541.6 L522.8,590.2 L527.6,602.2 L529.6,578.3 L533.6,576.3 L535.6,622.0 L539.6,632.0 L544.3,632.0 L547.5,614.0 L549.5,642.0 L552.3,614.0 L555.5,612.0 L558.7,598.2 L561.5,606.0 L565.4,622.0 L569.4,602.2 L571.4,578.3 L574.6,596.2 L579.4,554.4 L583.4,551.6 L589.3,558.4 L593.3,598.2 L597.3,610.1 L600.5,618.1 L603.3,614.1 L607.3,602.2 L611.2,602.2 L615.2,600.2 L621.9,600.2 L625.9,598.2 L629.9,598.2 L633.8,596.2 L639.8,596.2 L647.8,594.2 L649.8,602.2 L651.8,622.1 L655.8,630.0 L659.7,634.0 L661.7,604.2 L665.7,602.2 L673.7,600.2 L675.7,580.3 L677.8,590.0 L679.6,574.3 L683.4,573.6 L689.0,569.8 L696.7,575.4 L701.6,574.0 L704.2,626.5 L708.0,636.0 L721.2,637.0 L728.8,641.6 L733.0,637.0 L737.5,615.0 L740.0,627.0 L745.8,626.5 L753.3,619.0 L768.4,617.0 L770.3,637.8 L776.0,654.8 L790.0,656.7 L800.0,655.0 L804.2,658.5 L808.4,656.5 L816.7,655.0 L819.5,652.3 L822.3,645.4 L825.0,643.4 L830.7,642.6 L833.4,638.4 L839.0,638.4 L840.7,554.8 L846.0,577.1 L848.8,577.6 L854.4,574.8 L855.7,482.3 L858.0,476.7 L860.0,543.6 L862.7,627.2 L866.9,621.1 L873.0,624.5 L878.0,627.2 L883.6,588.2 L887.8,584.9 L894.8,597.1 L899.8,581.8 L904.5,589.6 L907.3,610.5 L911.5,609.1 L924.0,613.3 L929.6,626.7 L938.0,628.6 L946.3,635.6 L955.0,636.2 L955,706 L290,706 Z" fill="url(#gg)"/>
<path d="M290.0,622.4 L292.4,625.8 L294.5,634.2 L300.2,636.0 L303.6,631.0 L307.0,622.4 L310.4,630.8 L313.8,641.0 L317.1,636.0 L320.5,617.3 L322.9,625.8 L325.0,608.8 L329.0,602.0 L333.4,559.8 L335.7,575.0 L337.4,602.0 L342.5,614.0 L349.3,608.8 L352.7,592.0 L356.0,568.3 L359.4,581.8 L362.0,600.4 L366.2,592.0 L369.0,570.0 L371.3,575.0 L373.6,602.0 L376.3,610.5 L379.7,595.3 L383.0,619.0 L387.2,634.2 L391.6,636.0 L395.0,622.4 L399.3,602.0 L403.4,576.7 L406.8,575.0 L410.2,581.8 L413.5,585.0 L418.6,592.0 L422.0,592.0 L423.7,598.7 L427.1,605.5 L429.8,624.0 L433.8,619.0 L437.2,615.6 L440.6,620.7 L444.0,624.0 L447.4,627.5 L450.0,592.0 L452.5,576.7 L457.5,578.4 L462.0,554.4 L465.0,514.6 L468.7,522.5 L471.9,562.3 L475.8,602.2 L481.0,620.0 L485.8,614.0 L489.8,612.0 L493.8,600.2 L497.7,578.3 L500.5,534.5 L501.7,452.8 L503.7,486.7 L505.7,490.7 L509.7,488.7 L512.5,498.6 L515.7,486.7 L517.7,540.4 L521.6,541.6 L522.8,590.2 L527.6,602.2 L529.6,578.3 L533.6,576.3 L535.6,622.0 L539.6,632.0 L544.3,632.0 L547.5,614.0 L549.5,642.0 L552.3,614.0 L555.5,612.0 L558.7,598.2 L561.5,606.0 L565.4,622.0 L569.4,602.2 L571.4,578.3 L574.6,596.2 L579.4,554.4 L583.4,551.6 L589.3,558.4 L593.3,598.2 L597.3,610.1 L600.5,618.1 L603.3,614.1 L607.3,602.2 L611.2,602.2 L615.2,600.2 L621.9,600.2 L625.9,598.2 L629.9,598.2 L633.8,596.2 L639.8,596.2 L647.8,594.2 L649.8,602.2 L651.8,622.1 L655.8,630.0 L659.7,634.0 L661.7,604.2 L665.7,602.2 L673.7,600.2 L675.7,580.3 L677.8,590.0 L679.6,574.3 L683.4,573.6 L689.0,569.8 L696.7,575.4 L701.6,574.0 L704.2,626.5 L708.0,636.0 L721.2,637.0 L728.8,641.6 L733.0,637.0 L737.5,615.0 L740.0,627.0 L745.8,626.5 L753.3,619.0 L768.4,617.0 L770.3,637.8 L776.0,654.8 L790.0,656.7 L800.0,655.0 L804.2,658.5 L808.4,656.5 L816.7,655.0 L819.5,652.3 L822.3,645.4 L825.0,643.4 L830.7,642.6 L833.4,638.4 L839.0,638.4 L840.7,554.8 L846.0,577.1 L848.8,577.6 L854.4,574.8 L855.7,482.3 L858.0,476.7 L860.0,543.6 L862.7,627.2 L866.9,621.1 L873.0,624.5 L878.0,627.2 L883.6,588.2 L887.8,584.9 L894.8,597.1 L899.8,581.8 L904.5,589.6 L907.3,610.5 L911.5,609.1 L924.0,613.3 L929.6,626.7 L938.0,628.6 L946.3,635.6 L955.0,636.2" fill="none" stroke="#8cc63f" stroke-width="1.35" stroke-linejoin="round"/>
<path d="M290.0,706 L290.0,637.6 L323.0,637.6 L323.0,488.8 L343.5,488.8 L343.5,534.4 L361.5,534.4 L361.5,661.3 L378.7,661.3 L378.7,580.8 L397.0,580.8 L397.0,649.4 L417.6,649.4 L417.6,637.6 L431.5,637.6 L431.5,603.0 L452.7,603.0 L452.7,683.8 L468.7,683.8 L468.7,638.0 L488.6,638.0 L488.6,706.0 L519.6,706.0 L519.6,695.8 L540.8,695.8 L540.8,672.7 L572.6,672.7 L572.6,661.0 L594.0,661.0 L594.0,627.7 L614.0,627.7 L614.0,672.7 L628.7,672.7 L628.7,695.8 L645.0,695.8 L645.0,638.0 L680.4,638.0 L680.4,626.9 L698.4,626.9 L698.4,603.0 L719.5,603.0 L719.5,661.4 L803.8,661.4 L803.8,683.5 L824.8,683.5 L824.8,615.0 L871.4,615.0 L871.4,683.5 L879.3,683.5 L879.3,638.5 L898.4,638.5 L898.4,672.8 L915.0,672.8 L915.0,649.7 L931.8,649.7 L931.8,660.8 L955.7,660.8 L955.7,706 Z" fill="url(#og)" fill-opacity="0.75" stroke="#e9602b" stroke-width="1.5"/>
<g clip-path="url(#orClip)"><path d="M290.0,590.2 L342.5,590.2 L342.5,664.0 L393.9,664.0 L393.9,649.4 L446.0,649.4 L446.0,506.6 L498.5,506.6 L498.5,577.5 L550.7,577.5 L550.7,433.3 L600.5,433.3 L600.5,461.6 L651.8,461.6 L651.8,693.0 L701.5,693.0 L701.5,664.0 L752.8,664.0 L752.8,677.5 L803.5,677.5 L803.5,578.0 L856.7,578.0 L856.7,634.0 L907.2,634.0 L907.2,691.5 L955.7,691.5" fill="none" stroke="#9a8f80" stroke-opacity="0.4" stroke-width="1.5"/><path d="M290.0,622.4 L292.4,625.8 L294.5,634.2 L300.2,636.0 L303.6,631.0 L307.0,622.4 L310.4,630.8 L313.8,641.0 L317.1,636.0 L320.5,617.3 L322.9,625.8 L325.0,608.8 L329.0,602.0 L333.4,559.8 L335.7,575.0 L337.4,602.0 L342.5,614.0 L349.3,608.8 L352.7,592.0 L356.0,568.3 L359.4,581.8 L362.0,600.4 L366.2,592.0 L369.0,570.0 L371.3,575.0 L373.6,602.0 L376.3,610.5 L379.7,595.3 L383.0,619.0 L387.2,634.2 L391.6,636.0 L395.0,622.4 L399.3,602.0 L403.4,576.7 L406.8,575.0 L410.2,581.8 L413.5,585.0 L418.6,592.0 L422.0,592.0 L423.7,598.7 L427.1,605.5 L429.8,624.0 L433.8,619.0 L437.2,615.6 L440.6,620.7 L444.0,624.0 L447.4,627.5 L450.0,592.0 L452.5,576.7 L457.5,578.4 L462.0,554.4 L465.0,514.6 L468.7,522.5 L471.9,562.3 L475.8,602.2 L481.0,620.0 L485.8,614.0 L489.8,612.0 L493.8,600.2 L497.7,578.3 L500.5,534.5 L501.7,452.8 L503.7,486.7 L505.7,490.7 L509.7,488.7 L512.5,498.6 L515.7,486.7 L517.7,540.4 L521.6,541.6 L522.8,590.2 L527.6,602.2 L529.6,578.3 L533.6,576.3 L535.6,622.0 L539.6,632.0 L544.3,632.0 L547.5,614.0 L549.5,642.0 L552.3,614.0 L555.5,612.0 L558.7,598.2 L561.5,606.0 L565.4,622.0 L569.4,602.2 L571.4,578.3 L574.6,596.2 L579.4,554.4 L583.4,551.6 L589.3,558.4 L593.3,598.2 L597.3,610.1 L600.5,618.1 L603.3,614.1 L607.3,602.2 L611.2,602.2 L615.2,600.2 L621.9,600.2 L625.9,598.2 L629.9,598.2 L633.8,596.2 L639.8,596.2 L647.8,594.2 L649.8,602.2 L651.8,622.1 L655.8,630.0 L659.7,634.0 L661.7,604.2 L665.7,602.2 L673.7,600.2 L675.7,580.3 L677.8,590.0 L679.6,574.3 L683.4,573.6 L689.0,569.8 L696.7,575.4 L701.6,574.0 L704.2,626.5 L708.0,636.0 L721.2,637.0 L728.8,641.6 L733.0,637.0 L737.5,615.0 L740.0,627.0 L745.8,626.5 L753.3,619.0 L768.4,617.0 L770.3,637.8 L776.0,654.8 L790.0,656.7 L800.0,655.0 L804.2,658.5 L808.4,656.5 L816.7,655.0 L819.5,652.3 L822.3,645.4 L825.0,643.4 L830.7,642.6 L833.4,638.4 L839.0,638.4 L840.7,554.8 L846.0,577.1 L848.8,577.6 L854.4,574.8 L855.7,482.3 L858.0,476.7 L860.0,543.6 L862.7,627.2 L866.9,621.1 L873.0,624.5 L878.0,627.2 L883.6,588.2 L887.8,584.9 L894.8,597.1 L899.8,581.8 L904.5,589.6 L907.3,610.5 L911.5,609.1 L924.0,613.3 L929.6,626.7 L938.0,628.6 L946.3,635.6 L955.0,636.2" fill="none" stroke="#b0ac2a" stroke-opacity="0.6" stroke-width="1.3"/></g>
<path d="M657.3,580 L658.9,503 L661.8,565 L662.3,589 L657.2,589 Z" fill="#1a1a1a"/>
<path d="M650.5,707.0 L653.0,700.0 L655.0,689.5 L656.3,670.0 L657.0,630.0 L657.6,580.0 L658.3,530.0 L658.9,503.0 L659.8,506.0 L660.7,530.0 L661.8,565.0 L662.5,600.0 L663.2,640.0 L664.2,670.0 L666.0,690.0 L667.5,697.0 L669.3,700.8 L672.0,697.0 L676.0,689.5 L680.0,693.0 L684.3,698.5 L686.5,692.0 L688.0,677.5 L689.5,640.0 L690.4,560.0 L691.4,444.0 L692.4,560.0 L693.3,640.0 L694.8,685.0 L697.0,700.8 L700.0,701.5 L703.0,698.5 L706.0,694.0 L709.5,689.0 L712.8,682.8 L715.0,686.5 L716.5,688.0 L718.8,689.5 L721.0,694.0 L724.0,699.3 L730.0,696.3 L736.0,693.3 L740.0,688.0 L743.5,680.5 L745.8,670.0 L747.0,640.0 L748.3,617.0 L749.8,640.0 L751.0,665.0 L752.5,673.0 L754.0,660.0 L755.5,640.0 L758.0,590.0 L761.0,540.0 L764.2,489.0 L765.8,530.0 L767.0,600.0 L768.0,650.0 L769.2,668.0 L770.5,676.0 L771.2,600.0 L771.8,520.0 L772.6,441.0 L773.4,520.0 L774.0,600.0 L775.0,683.5 L777.0,695.0 L778.8,707.0" fill="none" stroke="#1a1a1a" stroke-width="2.5" stroke-linejoin="round"/>
<!-- axes -->
<path d="M290,419.5 V706.5 H956 V419.5 H290" fill="none" stroke="#231f20" stroke-width="1.6"/>
<path d="M342.1,706 v-7 M394.2,706 v-7 M445.6,706 v-7 M497.7,706 v-7 M549.8,706 v-7 M600.5,706 v-7 M651.5,706 v-7 M701.9,706 v-7 M752.5,706 v-7 M802.9,706 v-7 M855,706 v-7 M906,706 v-7" stroke="#231f20" stroke-width="1.3"/>
<path d="M290,492.4 h8 M290,564.8 h8 M290,634.5 h8" stroke="#231f20" stroke-width="1.3"/>
<path d="M956,475.5 h-12 M956,533.1 h-12 M956,590.3 h-12 M956,648.6 h-12" stroke="#231f20" stroke-width="1.3"/>
<path d="M1006,419.7 V707 H981" fill="none" stroke="#231f20" stroke-width="1.3"/>
<g font-size="16" fill="#231f20">
<text x="267.3" y="430" textLength="15.2" lengthAdjust="spacingAndGlyphs">20</text><text x="270.6" y="500" textLength="14.6" lengthAdjust="spacingAndGlyphs">15</text><text x="268.3" y="571.2" textLength="15.5" lengthAdjust="spacingAndGlyphs">10</text><text x="276.5" y="640.5" textLength="7.3" lengthAdjust="spacingAndGlyphs">5</text><text x="276.5" y="707" textLength="7.3" lengthAdjust="spacingAndGlyphs">0</text>
<text x="960" y="481.4" textLength="16.2" lengthAdjust="spacingAndGlyphs">20</text><text x="960" y="540" textLength="16.2" lengthAdjust="spacingAndGlyphs">15</text><text x="960" y="596.2" textLength="16.2" lengthAdjust="spacingAndGlyphs">10</text><text x="960" y="654.8" textLength="7.6" lengthAdjust="spacingAndGlyphs">5</text><text x="960" y="711.7" textLength="7.6" lengthAdjust="spacingAndGlyphs">0</text>
<text x="287.9" y="723.8" textLength="6.7" lengthAdjust="spacingAndGlyphs">0</text>
<text x="382" y="723.8" textLength="24" lengthAdjust="spacingAndGlyphs">200</text>
<text x="486.9" y="723.8" textLength="23.9" lengthAdjust="spacingAndGlyphs">400</text>
<text x="591.8" y="723.8" textLength="24.2" lengthAdjust="spacingAndGlyphs">600</text>
<text x="695" y="723.8" textLength="24.6" lengthAdjust="spacingAndGlyphs">800</text>
<text x="789.4" y="723.8" textLength="31.8" lengthAdjust="spacingAndGlyphs">1000</text>
<text x="888.3" y="723.8" textLength="32.3" lengthAdjust="spacingAndGlyphs">1200</text>
</g>
<text x="611.6" y="750.1" font-size="19.5" font-weight="bold" fill="#231f20" textLength="31.9" lengthAdjust="spacingAndGlyphs">Age</text><text x="649.1" y="750.1" font-size="19.5" fill="#231f20" textLength="22.2" lengthAdjust="spacingAndGlyphs">Ma</text>
<text x="926.8" y="444.6" font-size="28.4" font-weight="bold" fill="#231f20" textLength="14.2" lengthAdjust="spacingAndGlyphs">c</text>
<text transform="translate(228.6,723.8) rotate(-90)" font-size="15.4" font-weight="bold" fill="#1f9e4b" textLength="319" lengthAdjust="spacingAndGlyphs">Root mean square velocity of plates (cm/yr)</text>
<text transform="translate(255.2,680.3) rotate(-90)" font-size="15.2" font-weight="bold" fill="#33b6e6" textLength="229.8" lengthAdjust="spacingAndGlyphs">Orogens (numbers per 100 Myr)</text>
<text transform="translate(996.5,625) rotate(-90)" font-size="14.9" font-weight="bold" fill="#ef6a2c" textLength="110" lengthAdjust="spacingAndGlyphs">Number of LIPs</text>
<text transform="translate(1028.2,713.6) rotate(-90)" font-size="15.3" font-weight="bold" fill="#231f20" textLength="308" lengthAdjust="spacingAndGlyphs">Relative probability (age of Rodinian LIPs)</text>
<circle cx="296.9" cy="419.6" r="6.7" fill="#1a1718"/><text x="296.9" y="424.46" text-anchor="middle" font-size="13.5" font-weight="bold" fill="#fff" textLength="10.5" lengthAdjust="spacingAndGlyphs">I3</text>
<circle cx="313.8" cy="419.6" r="6.7" fill="#1a1718"/><text x="313.8" y="424.46" text-anchor="middle" font-size="13.5" font-weight="bold" fill="#fff" textLength="10.5" lengthAdjust="spacingAndGlyphs">I2</text>
<circle cx="329" cy="419.6" r="6.7" fill="#1a1718"/><text x="329" y="424.46" text-anchor="middle" font-size="13.5" font-weight="bold" fill="#fff" textLength="10.5" lengthAdjust="spacingAndGlyphs">II</text>
<circle cx="358.8" cy="419.6" r="6.7" fill="#1a1718"/><text x="358.8" y="424.46" text-anchor="middle" font-size="13.5" font-weight="bold" fill="#fff" textLength="10.5" lengthAdjust="spacingAndGlyphs">I0</text>
<circle cx="383.8" cy="419.6" r="6.7" fill="#1a1718"/><text x="383.8" y="424.46" text-anchor="middle" font-size="13.5" font-weight="bold" fill="#fff" textLength="8" lengthAdjust="spacingAndGlyphs">9</text>
<circle cx="397.8" cy="419.6" r="6.7" fill="#1a1718"/><text x="397.8" y="424.46" text-anchor="middle" font-size="13.5" font-weight="bold" fill="#fff" textLength="8" lengthAdjust="spacingAndGlyphs">8</text>
<circle cx="661.3" cy="419.6" r="6.7" fill="#1a1718"/><text x="661.3" y="424.46" text-anchor="middle" font-size="13.5" font-weight="bold" fill="#fff" textLength="8" lengthAdjust="spacingAndGlyphs">7</text>
<circle cx="680" cy="419.6" r="6.7" fill="#1a1718"/><text x="680" y="424.46" text-anchor="middle" font-size="13.5" font-weight="bold" fill="#fff" textLength="8" lengthAdjust="spacingAndGlyphs">6</text>
<circle cx="694" cy="419.6" r="6.7" fill="#1a1718"/><text x="694" y="424.46" text-anchor="middle" font-size="13.5" font-weight="bold" fill="#fff" textLength="8" lengthAdjust="spacingAndGlyphs">5</text>
<circle cx="713.6" cy="419.6" r="6.7" fill="#1a1718"/><text x="713.6" y="424.46" text-anchor="middle" font-size="13.5" font-weight="bold" fill="#fff" textLength="8" lengthAdjust="spacingAndGlyphs">4</text>
<circle cx="746.7" cy="419.6" r="6.7" fill="#1a1718"/><text x="746.7" y="424.46" text-anchor="middle" font-size="13.5" font-weight="bold" fill="#fff" textLength="8" lengthAdjust="spacingAndGlyphs">3</text>
<circle cx="763.3" cy="419.6" r="6.7" fill="#1a1718"/><text x="763.3" y="424.46" text-anchor="middle" font-size="13.5" font-weight="bold" fill="#fff" textLength="8" lengthAdjust="spacingAndGlyphs">2</text>
<circle cx="776" cy="419.6" r="6.7" fill="#1a1718"/><text x="776" y="424.46" text-anchor="middle" font-size="13.5" font-weight="bold" fill="#fff" textLength="8" lengthAdjust="spacingAndGlyphs">1</text>
</g>
</svg>
</body></html>
